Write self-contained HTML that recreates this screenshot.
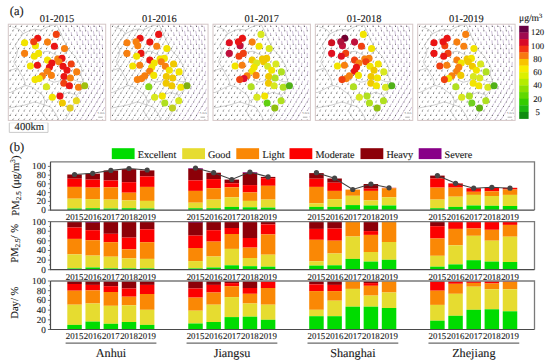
<!DOCTYPE html>
<html><head><meta charset="utf-8"><style>
html,body{margin:0;padding:0;background:#fff;}
body{width:550px;height:362px;overflow:hidden;}
svg{display:block;}
text{font-family:"Liberation Serif", serif; fill:#1a1a1a; stroke:#1a1a1a; stroke-width:0.12px; text-rendering:geometricPrecision;}
</style></head><body>
<svg width="550" height="362" viewBox="0 0 550 362">
<rect width="550" height="362" fill="#fff"/>
<text x="9.8" y="15.2" font-size="12.5">(a)</text><text x="57" y="22.2" font-size="10.4" text-anchor="middle">01-2015</text><clipPath id="cp0"><rect x="8.3" y="24.2" width="97.4" height="96.2"/></clipPath><g clip-path="url(#cp0)"><rect x="8.3" y="24.2" width="97.4" height="96.2" fill="#ffffff"/><path d="M11.2 24.49L10.1 26.4M16.8 24.49L15.7 26.4M22.4 24.49L21.3 26.4M28 24.49L26.9 26.4M33.6 24.49L32.5 26.4M39.2 24.49L38.1 26.4M44.8 24.49L43.7 26.4M50.4 24.49L49.3 26.4M56 24.49L54.9 26.4M14 28.94L12.9 30.85M19.6 28.94L18.5 30.85M25.2 28.94L24.1 30.85M30.8 28.94L29.7 30.85M36.4 28.94L35.3 30.85M42 28.94L40.9 30.85M47.6 28.94L46.5 30.85M53.2 28.94L52.1 30.85M58.8 28.94L57.7 30.85M11.2 33.39L10.1 35.3M16.8 33.39L15.7 35.3M22.4 33.39L21.3 35.3M28 33.39L26.9 35.3M33.6 33.39L32.5 35.3M39.2 33.39L38.1 35.3M44.8 33.39L43.7 35.3M50.4 33.39L49.3 35.3M56 33.39L54.9 35.3M61.6 33.39L60.5 35.3M14 37.84L12.9 39.75M19.6 37.84L18.5 39.75M25.2 37.84L24.1 39.75M30.8 37.84L29.7 39.75M36.4 37.84L35.3 39.75M42 37.84L40.9 39.75M47.6 37.84L46.5 39.75M53.2 37.84L52.1 39.75M58.8 37.84L57.7 39.75M64.4 37.84L63.3 39.75M11.2 42.29L10.1 44.2M16.8 42.29L15.7 44.2M22.4 42.29L21.3 44.2M28 42.29L26.9 44.2M33.6 42.29L32.5 44.2M39.2 42.29L38.1 44.2M44.8 42.29L43.7 44.2M50.4 42.29L49.3 44.2M56 42.29L54.9 44.2M61.6 42.29L60.5 44.2M67.2 42.29L66.1 44.2M14 46.74L12.9 48.65M19.6 46.74L18.5 48.65M25.2 46.74L24.1 48.65M30.8 46.74L29.7 48.65M36.4 46.74L35.3 48.65M42 46.74L40.9 48.65M47.6 46.74L46.5 48.65M53.2 46.74L52.1 48.65M58.8 46.74L57.7 48.65M64.4 46.74L63.3 48.65M70 46.74L68.9 48.65M11.2 51.19L10.1 53.1M16.8 51.19L15.7 53.1M22.4 51.19L21.3 53.1M28 51.19L26.9 53.1M33.6 51.19L32.5 53.1M39.2 51.19L38.1 53.1M44.8 51.19L43.7 53.1M50.4 51.19L49.3 53.1M56 51.19L54.9 53.1M61.6 51.19L60.5 53.1M67.2 51.19L66.1 53.1M72.8 51.19L71.7 53.1M14 55.64L12.9 57.55M19.6 55.64L18.5 57.55M25.2 55.64L24.1 57.55M30.8 55.64L29.7 57.55M36.4 55.64L35.3 57.55M42 55.64L40.9 57.55M47.6 55.64L46.5 57.55M53.2 55.64L52.1 57.55M58.8 55.64L57.7 57.55M64.4 55.64L63.3 57.55M70 55.64L68.9 57.55M75.6 55.64L74.5 57.55M11.2 60.09L10.1 62M16.8 60.09L15.7 62M22.4 60.09L21.3 62M28 60.09L26.9 62M33.6 60.09L32.5 62M39.2 60.09L38.1 62M44.8 60.09L43.7 62M50.4 60.09L49.3 62M56 60.09L54.9 62M61.6 60.09L60.5 62M67.2 60.09L66.1 62M72.8 60.09L71.7 62M78.4 60.09L77.3 62M14 64.54L12.9 66.45M19.6 64.54L18.5 66.45M25.2 64.54L24.1 66.45M30.8 64.54L29.7 66.45M36.4 64.54L35.3 66.45M42 64.54L40.9 66.45M47.6 64.54L46.5 66.45M53.2 64.54L52.1 66.45M58.8 64.54L57.7 66.45M64.4 64.54L63.3 66.45M70 64.54L68.9 66.45M75.6 64.54L74.5 66.45M81.2 64.54L80.1 66.45M11.2 68.99L10.1 70.9M16.8 68.99L15.7 70.9M22.4 68.99L21.3 70.9M28 68.99L26.9 70.9M33.6 68.99L32.5 70.9M39.2 68.99L38.1 70.9M44.8 68.99L43.7 70.9M50.4 68.99L49.3 70.9M56 68.99L54.9 70.9M61.6 68.99L60.5 70.9M67.2 68.99L66.1 70.9M72.8 68.99L71.7 70.9M78.4 68.99L77.3 70.9M84 68.99L82.9 70.9M14 73.44L12.9 75.35M19.6 73.44L18.5 75.35M25.2 73.44L24.1 75.35M30.8 73.44L29.7 75.35M36.4 73.44L35.3 75.35M42 73.44L40.9 75.35M47.6 73.44L46.5 75.35M53.2 73.44L52.1 75.35M58.8 73.44L57.7 75.35M64.4 73.44L63.3 75.35M70 73.44L68.9 75.35M75.6 73.44L74.5 75.35M81.2 73.44L80.1 75.35M11.2 77.89L10.1 79.8M16.8 77.89L15.7 79.8M22.4 77.89L21.3 79.8M28 77.89L26.9 79.8M33.6 77.89L32.5 79.8M39.2 77.89L38.1 79.8M44.8 77.89L43.7 79.8M50.4 77.89L49.3 79.8M56 77.89L54.9 79.8M61.6 77.89L60.5 79.8M67.2 77.89L66.1 79.8M72.8 77.89L71.7 79.8M78.4 77.89L77.3 79.8M84 77.89L82.9 79.8M14 82.34L12.9 84.25M19.6 82.34L18.5 84.25M25.2 82.34L24.1 84.25M30.8 82.34L29.7 84.25M36.4 82.34L35.3 84.25M42 82.34L40.9 84.25M47.6 82.34L46.5 84.25M53.2 82.34L52.1 84.25M58.8 82.34L57.7 84.25M64.4 82.34L63.3 84.25M70 82.34L68.9 84.25M75.6 82.34L74.5 84.25M81.2 82.34L80.1 84.25M86.8 82.34L85.7 84.25M11.2 86.79L10.1 88.7M16.8 86.79L15.7 88.7M22.4 86.79L21.3 88.7M28 86.79L26.9 88.7M33.6 86.79L32.5 88.7M39.2 86.79L38.1 88.7M44.8 86.79L43.7 88.7M50.4 86.79L49.3 88.7M56 86.79L54.9 88.7M61.6 86.79L60.5 88.7M67.2 86.79L66.1 88.7M72.8 86.79L71.7 88.7M78.4 86.79L77.3 88.7M84 86.79L82.9 88.7M14 91.24L12.9 93.15M19.6 91.24L18.5 93.15M25.2 91.24L24.1 93.15M30.8 91.24L29.7 93.15M36.4 91.24L35.3 93.15M42 91.24L40.9 93.15M47.6 91.24L46.5 93.15M53.2 91.24L52.1 93.15M58.8 91.24L57.7 93.15M64.4 91.24L63.3 93.15M70 91.24L68.9 93.15M75.6 91.24L74.5 93.15M81.2 91.24L80.1 93.15M11.2 95.69L10.1 97.6M16.8 95.69L15.7 97.6M22.4 95.69L21.3 97.6M28 95.69L26.9 97.6M33.6 95.69L32.5 97.6M39.2 95.69L38.1 97.6M44.8 95.69L43.7 97.6M50.4 95.69L49.3 97.6M56 95.69L54.9 97.6M61.6 95.69L60.5 97.6M67.2 95.69L66.1 97.6M72.8 95.69L71.7 97.6M78.4 95.69L77.3 97.6M14 100.14L12.9 102.05M19.6 100.14L18.5 102.05M25.2 100.14L24.1 102.05M30.8 100.14L29.7 102.05M36.4 100.14L35.3 102.05M42 100.14L40.9 102.05M47.6 100.14L46.5 102.05M53.2 100.14L52.1 102.05M58.8 100.14L57.7 102.05M64.4 100.14L63.3 102.05M70 100.14L68.9 102.05M75.6 100.14L74.5 102.05M11.2 104.59L10.1 106.5M16.8 104.59L15.7 106.5M22.4 104.59L21.3 106.5M28 104.59L26.9 106.5M33.6 104.59L32.5 106.5M39.2 104.59L38.1 106.5M44.8 104.59L43.7 106.5M50.4 104.59L49.3 106.5M56 104.59L54.9 106.5M61.6 104.59L60.5 106.5M67.2 104.59L66.1 106.5M72.8 104.59L71.7 106.5M14 109.04L12.9 110.95M19.6 109.04L18.5 110.95M25.2 109.04L24.1 110.95M30.8 109.04L29.7 110.95M36.4 109.04L35.3 110.95M42 109.04L40.9 110.95M47.6 109.04L46.5 110.95M53.2 109.04L52.1 110.95M58.8 109.04L57.7 110.95M64.4 109.04L63.3 110.95M70 109.04L68.9 110.95M11.2 113.49L10.1 115.4M16.8 113.49L15.7 115.4M22.4 113.49L21.3 115.4M28 113.49L26.9 115.4M33.6 113.49L32.5 115.4M39.2 113.49L38.1 115.4M44.8 113.49L43.7 115.4M50.4 113.49L49.3 115.4M56 113.49L54.9 115.4M61.6 113.49L60.5 115.4M67.2 113.49L66.1 115.4M14 117.94L12.9 119.85M19.6 117.94L18.5 119.85M25.2 117.94L24.1 119.85M30.8 117.94L29.7 119.85M36.4 117.94L35.3 119.85M42 117.94L40.9 119.85M47.6 117.94L46.5 119.85M53.2 117.94L52.1 119.85M58.8 117.94L57.7 119.85M64.4 117.94L63.3 119.85" stroke="#9c9c9c" stroke-width="0.5" fill="none"/><path d="M60.02 24.09L60.5 26.4M65.49 23.44L66.1 26.4M70.96 22.8L71.7 26.4M76.42 22.15L77.3 26.4M81.97 21.89L82.9 26.4M87.57 21.89L88.5 26.4M93.17 21.89L94.1 26.4M98.77 21.89L99.7 26.4M62.86 28.47L63.3 30.85M68.34 27.82L68.9 30.85M73.82 27.17L74.5 30.85M79.3 26.52L80.1 30.85M84.86 26.33L85.7 30.85M90.46 26.33L91.3 30.85M96.06 26.33L96.9 30.85M101.66 26.33L102.5 30.85M65.7 32.81L66.1 35.3M71.2 32.15L71.7 35.3M76.69 31.5L77.3 35.3M82.19 30.85L82.9 35.3M87.77 30.76L88.5 35.3M93.37 30.76L94.1 35.3M98.97 30.76L99.7 35.3M68.56 37.15L68.9 39.75M74.07 36.49L74.5 39.75M79.58 35.84L80.1 39.75M85.1 35.19L85.7 39.75M90.7 35.19L91.3 39.75M96.3 35.19L96.9 39.75M101.9 35.19L102.5 39.75M71.43 41.52L71.7 44.2M76.96 40.86L77.3 44.2M82.5 40.2L82.9 44.2M88.04 39.62L88.5 44.2M93.64 39.62L94.1 44.2M99.24 39.62L99.7 44.2M74.31 45.89L74.5 48.65M79.87 45.23L80.1 48.65M85.42 44.57L85.7 48.65M90.99 44.06L91.3 48.65M96.59 44.06L96.9 48.65M102.19 44.06L102.5 48.65M77.21 50.48L77.3 53.1M82.79 49.81L82.9 53.1M88.37 49.15L88.5 53.1M93.94 48.5L94.1 53.1M99.54 48.5L99.7 53.1M80.1 55.06L80.1 57.55M85.71 54.4L85.7 57.55M91.31 53.74L91.3 57.55M96.91 53.08L96.9 57.55M102.51 52.95L102.5 57.55M83 59.5L82.9 62M88.62 58.84L88.5 62M94.25 58.18L94.1 62M99.88 57.52L99.7 62M85.9 63.9L85.7 66.45M91.55 63.24L91.3 66.45M97.2 62.58L96.9 66.45M102.85 61.92L102.5 66.45M88.84 68.07L88.5 70.9M94.51 67.41L94.1 70.9M100.19 66.75L99.7 70.9M86.1 72.84L85.7 75.35M91.81 72.19L91.3 75.35M97.51 71.54L96.9 75.35M103.22 70.88L102.5 75.35M89.04 77.16L88.5 79.8M94.77 76.51L94.1 79.8M100.5 75.86L99.7 79.8M91.99 81.49L91.3 84.25M97.75 80.85L96.9 84.25M103.51 80.2L102.5 84.25M89.28 86.09L88.5 88.7M95.06 85.45L94.1 88.7M100.85 84.82L99.7 88.7M86.64 90.44L85.7 93.15M92.46 89.81L91.3 93.15M98.27 89.19L96.9 93.15M104.01 88.8L102.5 93.15M83.94 95L82.9 97.6M89.79 94.38L88.5 97.6M95.63 93.77L94.1 97.6M101.41 93.33L99.7 97.6M81.17 99.69L80.1 102.05M87.05 99.09L85.7 102.05M92.92 98.48L91.3 102.05M98.8 97.88L96.9 102.05M104.4 97.86L102.5 102.05M78.45 104.26L77.3 106.5M84.35 103.67L82.9 106.5M90.26 103.08L88.5 106.5M96.16 102.49L94.1 106.5M101.8 102.41L99.7 106.5M75.73 108.82L74.5 110.95M81.66 108.24L80.1 110.95M87.59 107.67L85.7 110.95M93.52 107.1L91.3 110.95M99.2 106.96L96.9 110.95M104.8 106.96L102.5 110.95M73.03 113.34L71.7 115.4M78.98 112.79L77.3 115.4M84.94 112.23L82.9 115.4M90.9 111.67L88.5 115.4M96.59 111.53L94.1 115.4M102.19 111.53L99.7 115.4M70.31 117.88L68.9 119.85M76.3 117.34L74.5 119.85M82.28 116.8L80.1 119.85M88.27 116.27L85.7 119.85M93.98 116.11L91.3 119.85M99.58 116.11L96.9 119.85M105.18 116.11L102.5 119.85" stroke="#a890bc" stroke-width="0.55" fill="none"/><path d="M10.1 26.4h0M15.7 26.4h0M21.3 26.4h0M26.9 26.4h0M32.5 26.4h0M38.1 26.4h0M43.7 26.4h0M49.3 26.4h0M54.9 26.4h0M60.5 26.4h0M66.1 26.4h0M71.7 26.4h0M77.3 26.4h0M82.9 26.4h0M88.5 26.4h0M94.1 26.4h0M99.7 26.4h0M12.9 30.85h0M18.5 30.85h0M24.1 30.85h0M29.7 30.85h0M35.3 30.85h0M40.9 30.85h0M46.5 30.85h0M52.1 30.85h0M57.7 30.85h0M63.3 30.85h0M68.9 30.85h0M74.5 30.85h0M80.1 30.85h0M85.7 30.85h0M91.3 30.85h0M96.9 30.85h0M102.5 30.85h0M10.1 35.3h0M15.7 35.3h0M21.3 35.3h0M26.9 35.3h0M32.5 35.3h0M38.1 35.3h0M43.7 35.3h0M49.3 35.3h0M54.9 35.3h0M60.5 35.3h0M66.1 35.3h0M71.7 35.3h0M77.3 35.3h0M82.9 35.3h0M88.5 35.3h0M94.1 35.3h0M99.7 35.3h0M12.9 39.75h0M18.5 39.75h0M24.1 39.75h0M29.7 39.75h0M35.3 39.75h0M40.9 39.75h0M46.5 39.75h0M52.1 39.75h0M57.7 39.75h0M63.3 39.75h0M68.9 39.75h0M74.5 39.75h0M80.1 39.75h0M85.7 39.75h0M91.3 39.75h0M96.9 39.75h0M102.5 39.75h0M10.1 44.2h0M15.7 44.2h0M21.3 44.2h0M26.9 44.2h0M32.5 44.2h0M38.1 44.2h0M43.7 44.2h0M49.3 44.2h0M54.9 44.2h0M60.5 44.2h0M66.1 44.2h0M71.7 44.2h0M77.3 44.2h0M82.9 44.2h0M88.5 44.2h0M94.1 44.2h0M99.7 44.2h0M12.9 48.65h0M18.5 48.65h0M24.1 48.65h0M29.7 48.65h0M35.3 48.65h0M40.9 48.65h0M46.5 48.65h0M52.1 48.65h0M57.7 48.65h0M63.3 48.65h0M68.9 48.65h0M74.5 48.65h0M80.1 48.65h0M85.7 48.65h0M91.3 48.65h0M96.9 48.65h0M102.5 48.65h0M10.1 53.1h0M15.7 53.1h0M21.3 53.1h0M26.9 53.1h0M32.5 53.1h0M38.1 53.1h0M43.7 53.1h0M49.3 53.1h0M54.9 53.1h0M60.5 53.1h0M66.1 53.1h0M71.7 53.1h0M77.3 53.1h0M82.9 53.1h0M88.5 53.1h0M94.1 53.1h0M99.7 53.1h0M12.9 57.55h0M18.5 57.55h0M24.1 57.55h0M29.7 57.55h0M35.3 57.55h0M40.9 57.55h0M46.5 57.55h0M52.1 57.55h0M57.7 57.55h0M63.3 57.55h0M68.9 57.55h0M74.5 57.55h0M80.1 57.55h0M85.7 57.55h0M91.3 57.55h0M96.9 57.55h0M102.5 57.55h0M10.1 62h0M15.7 62h0M21.3 62h0M26.9 62h0M32.5 62h0M38.1 62h0M43.7 62h0M49.3 62h0M54.9 62h0M60.5 62h0M66.1 62h0M71.7 62h0M77.3 62h0M82.9 62h0M88.5 62h0M94.1 62h0M99.7 62h0M12.9 66.45h0M18.5 66.45h0M24.1 66.45h0M29.7 66.45h0M35.3 66.45h0M40.9 66.45h0M46.5 66.45h0M52.1 66.45h0M57.7 66.45h0M63.3 66.45h0M68.9 66.45h0M74.5 66.45h0M80.1 66.45h0M85.7 66.45h0M91.3 66.45h0M96.9 66.45h0M102.5 66.45h0M10.1 70.9h0M15.7 70.9h0M21.3 70.9h0M26.9 70.9h0M32.5 70.9h0M38.1 70.9h0M43.7 70.9h0M49.3 70.9h0M54.9 70.9h0M60.5 70.9h0M66.1 70.9h0M71.7 70.9h0M77.3 70.9h0M82.9 70.9h0M88.5 70.9h0M94.1 70.9h0M99.7 70.9h0M12.9 75.35h0M18.5 75.35h0M24.1 75.35h0M29.7 75.35h0M35.3 75.35h0M40.9 75.35h0M46.5 75.35h0M52.1 75.35h0M57.7 75.35h0M63.3 75.35h0M68.9 75.35h0M74.5 75.35h0M80.1 75.35h0M85.7 75.35h0M91.3 75.35h0M96.9 75.35h0M102.5 75.35h0M10.1 79.8h0M15.7 79.8h0M21.3 79.8h0M26.9 79.8h0M32.5 79.8h0M38.1 79.8h0M43.7 79.8h0M49.3 79.8h0M54.9 79.8h0M60.5 79.8h0M66.1 79.8h0M71.7 79.8h0M77.3 79.8h0M82.9 79.8h0M88.5 79.8h0M94.1 79.8h0M99.7 79.8h0M12.9 84.25h0M18.5 84.25h0M24.1 84.25h0M29.7 84.25h0M35.3 84.25h0M40.9 84.25h0M46.5 84.25h0M52.1 84.25h0M57.7 84.25h0M63.3 84.25h0M68.9 84.25h0M74.5 84.25h0M80.1 84.25h0M85.7 84.25h0M91.3 84.25h0M96.9 84.25h0M102.5 84.25h0M10.1 88.7h0M15.7 88.7h0M21.3 88.7h0M26.9 88.7h0M32.5 88.7h0M38.1 88.7h0M43.7 88.7h0M49.3 88.7h0M54.9 88.7h0M60.5 88.7h0M66.1 88.7h0M71.7 88.7h0M77.3 88.7h0M82.9 88.7h0M88.5 88.7h0M94.1 88.7h0M99.7 88.7h0M12.9 93.15h0M18.5 93.15h0M24.1 93.15h0M29.7 93.15h0M35.3 93.15h0M40.9 93.15h0M46.5 93.15h0M52.1 93.15h0M57.7 93.15h0M63.3 93.15h0M68.9 93.15h0M74.5 93.15h0M80.1 93.15h0M85.7 93.15h0M91.3 93.15h0M96.9 93.15h0M102.5 93.15h0M10.1 97.6h0M15.7 97.6h0M21.3 97.6h0M26.9 97.6h0M32.5 97.6h0M38.1 97.6h0M43.7 97.6h0M49.3 97.6h0M54.9 97.6h0M60.5 97.6h0M66.1 97.6h0M71.7 97.6h0M77.3 97.6h0M82.9 97.6h0M88.5 97.6h0M94.1 97.6h0M99.7 97.6h0M12.9 102.05h0M18.5 102.05h0M24.1 102.05h0M29.7 102.05h0M35.3 102.05h0M40.9 102.05h0M46.5 102.05h0M52.1 102.05h0M57.7 102.05h0M63.3 102.05h0M68.9 102.05h0M74.5 102.05h0M80.1 102.05h0M85.7 102.05h0M91.3 102.05h0M96.9 102.05h0M102.5 102.05h0M10.1 106.5h0M15.7 106.5h0M21.3 106.5h0M26.9 106.5h0M32.5 106.5h0M38.1 106.5h0M43.7 106.5h0M49.3 106.5h0M54.9 106.5h0M60.5 106.5h0M66.1 106.5h0M71.7 106.5h0M77.3 106.5h0M82.9 106.5h0M88.5 106.5h0M94.1 106.5h0M99.7 106.5h0M12.9 110.95h0M18.5 110.95h0M24.1 110.95h0M29.7 110.95h0M35.3 110.95h0M40.9 110.95h0M46.5 110.95h0M52.1 110.95h0M57.7 110.95h0M63.3 110.95h0M68.9 110.95h0M74.5 110.95h0M80.1 110.95h0M85.7 110.95h0M91.3 110.95h0M96.9 110.95h0M102.5 110.95h0M10.1 115.4h0M15.7 115.4h0M21.3 115.4h0M26.9 115.4h0M32.5 115.4h0M38.1 115.4h0M43.7 115.4h0M49.3 115.4h0M54.9 115.4h0M60.5 115.4h0M66.1 115.4h0M71.7 115.4h0M77.3 115.4h0M82.9 115.4h0M88.5 115.4h0M94.1 115.4h0M99.7 115.4h0M12.9 119.85h0M18.5 119.85h0M24.1 119.85h0M29.7 119.85h0M35.3 119.85h0M40.9 119.85h0M46.5 119.85h0M52.1 119.85h0M57.7 119.85h0M63.3 119.85h0M68.9 119.85h0M74.5 119.85h0M80.1 119.85h0M85.7 119.85h0M91.3 119.85h0M96.9 119.85h0M102.5 119.85h0" stroke="#5a5a5a" stroke-width="1.1" stroke-linecap="round" fill="none"/><polyline points="56.3,24.2 59.2,29.6 63.2,38.9 68.5,49.6 75.2,56.3 79.3,63 81.9,68.4 80.6,73.7 83.3,81.8 84.8,86.2 80.6,90.5 76.6,95.2 75.2,101.8 71.2,109.9 67.2,116.6 64.8,120.7" fill="none" stroke="#a8a8a8" stroke-width="0.55"/><polyline points="12.1,26.8 16.3,28.1 20.3,30.2 23.2,33.7 20.3,37.8 17.7,41.2 15,45.2 17.7,51 16.3,56.3 13.7,61.7 16.3,66.2 18.8,70 20.9,74.2 23.7,78.5 25.2,84.1 25.9,85.5" fill="none" stroke="#a8a8a8" stroke-width="0.55"/><polyline points="8.3,92.5 10.4,92.5 16.1,89.7 21.7,86.9 25.9,85.5 31.5,86.9" fill="none" stroke="#a8a8a8" stroke-width="0.55"/><polyline points="31.5,86.9 37.2,91.1 42.8,95.4 44.9,101 43.5,106.6 41.3,110.8 44.3,116.2 48.3,120.7" fill="none" stroke="#a8a8a8" stroke-width="0.55"/><polyline points="8.3,71.1 12.3,69.7 16.3,68.4 18.8,70" fill="none" stroke="#a8a8a8" stroke-width="0.55"/><polyline points="8.3,108.2 16.3,106.7 24.3,105.2 32.3,102.7 35.1,101.8 43.1,104.5 51.1,107.2 56.5,115.2 59.2,121.1" fill="none" stroke="#a8a8a8" stroke-width="0.55"/><polyline points="23.2,33.7 28.3,31.2 34.3,29.2 41.3,30.2 46.3,27.2 52.3,25.2 56.3,24.2" fill="none" stroke="#a8a8a8" stroke-width="0.55"/><polyline points="38.3,48.2 42.3,52.2 48.3,51.2 54.3,54.2 60.3,57.2 64.3,54.2 68.5,49.6" fill="none" stroke="#a8a8a8" stroke-width="0.55"/><polyline points="48.3,80.2 54.3,82.2 60.3,80.7 66.3,81.7 72.3,79.2 78.3,81.7 83.3,81.8" fill="none" stroke="#a8a8a8" stroke-width="0.55"/><polyline points="44.9,101 50.3,98.2 56.3,96.7 62.3,94.7 68.3,92.2 76.6,95.2" fill="none" stroke="#a8a8a8" stroke-width="0.55"/><circle cx="56.3" cy="34.4" r="3.55" fill="#f04010"/><circle cx="35.4" cy="45.8" r="3.55" fill="#f2e400"/><circle cx="37.7" cy="38.2" r="3.55" fill="#ea1414"/><circle cx="24.6" cy="42.7" r="3.55" fill="#f2e400"/><circle cx="33.7" cy="41.8" r="3.55" fill="#f04010"/><circle cx="47.5" cy="42.1" r="3.55" fill="#f78010"/><circle cx="54.4" cy="46.2" r="3.55" fill="#ea1414"/><circle cx="64.5" cy="48.6" r="3.55" fill="#f78010"/><circle cx="24.6" cy="53.4" r="3.55" fill="#f78010"/><circle cx="38.6" cy="53.4" r="3.55" fill="#f2e400"/><circle cx="34.3" cy="56.3" r="3.55" fill="#f2e400"/><circle cx="57.7" cy="59" r="3.55" fill="#f78010"/><circle cx="62" cy="58.4" r="3.55" fill="#ea1414"/><circle cx="58.9" cy="61.7" r="3.55" fill="#f78010"/><circle cx="47.5" cy="60.1" r="3.55" fill="#f2e400"/><circle cx="51.9" cy="63.1" r="3.55" fill="#ea1414"/><circle cx="63" cy="66.2" r="3.55" fill="#ea1414"/><circle cx="71.2" cy="64" r="3.55" fill="#f04010"/><circle cx="49.4" cy="67.2" r="3.55" fill="#ea1414"/><circle cx="67" cy="70.2" r="3.55" fill="#ea1414"/><circle cx="47.4" cy="71.2" r="3.55" fill="#f78010"/><circle cx="76.7" cy="71.9" r="3.55" fill="#f78010"/><circle cx="30.4" cy="66" r="3.55" fill="#f2e400"/><circle cx="37.4" cy="65.3" r="3.55" fill="#ea1414"/><circle cx="42.4" cy="75.7" r="3.55" fill="#f78010"/><circle cx="51.4" cy="75.4" r="3.55" fill="#f78010"/><circle cx="64" cy="76.5" r="3.55" fill="#ea1414"/><circle cx="70.4" cy="78" r="3.55" fill="#f78010"/><circle cx="39.3" cy="78.6" r="3.55" fill="#f2e400"/><circle cx="35" cy="79.6" r="3.55" fill="#f2e400"/><circle cx="63.8" cy="83.3" r="3.55" fill="#f04010"/><circle cx="69.4" cy="85.7" r="3.55" fill="#ea1414"/><circle cx="78.5" cy="87.3" r="3.55" fill="#f78010"/><circle cx="84.7" cy="85.7" r="3.55" fill="#a0c010"/><circle cx="46.4" cy="86.8" r="3.55" fill="#d8e820"/><circle cx="52.3" cy="97.2" r="3.55" fill="#f2e400"/><circle cx="60" cy="96.1" r="3.55" fill="#ea1414"/><circle cx="62.4" cy="103" r="3.55" fill="#f0c800"/><circle cx="76.4" cy="100.7" r="3.55" fill="#e8d820"/><circle cx="70.1" cy="108" r="3.55" fill="#e0cc20"/><rect x="96.7" y="111" width="8" height="8.5" fill="#fff"/><text x="97.5" y="114.4" font-size="3.2" style="stroke:none;fill:#666">5 m/s</text><path d="M98.2 117.2h4.5" stroke="#777" stroke-width="0.6"/></g><rect x="8.3" y="24.2" width="97.4" height="96.2" fill="none" stroke="#d4c6c6" stroke-width="1"/><text x="159.35" y="22.2" font-size="10.4" text-anchor="middle">01-2016</text><clipPath id="cp1"><rect x="110.65" y="24.2" width="97.4" height="96.2"/></clipPath><g clip-path="url(#cp1)"><rect x="110.65" y="24.2" width="97.4" height="96.2" fill="#ffffff"/><path d="M114.25 23.52L112.45 26.4M119.85 23.52L118.05 26.4M125.45 23.52L123.65 26.4M131.05 23.52L129.25 26.4M136.65 23.52L134.85 26.4M142.25 23.52L140.45 26.4M147.85 23.52L146.05 26.4M153.45 23.52L151.65 26.4M159.05 23.52L157.25 26.4M117.05 27.97L115.25 30.85M122.65 27.97L120.85 30.85M128.25 27.97L126.45 30.85M133.85 27.97L132.05 30.85M139.45 27.97L137.65 30.85M145.05 27.97L143.25 30.85M150.65 27.97L148.85 30.85M156.25 27.97L154.45 30.85M161.85 27.97L160.05 30.85M114.25 32.42L112.45 35.3M119.85 32.42L118.05 35.3M125.45 32.42L123.65 35.3M131.05 32.42L129.25 35.3M136.65 32.42L134.85 35.3M142.25 32.42L140.45 35.3M147.85 32.42L146.05 35.3M153.45 32.42L151.65 35.3M159.05 32.42L157.25 35.3M164.65 32.42L162.85 35.3M117.05 36.87L115.25 39.75M122.65 36.87L120.85 39.75M128.25 36.87L126.45 39.75M133.85 36.87L132.05 39.75M139.45 36.87L137.65 39.75M145.05 36.87L143.25 39.75M150.65 36.87L148.85 39.75M156.25 36.87L154.45 39.75M161.85 36.87L160.05 39.75M167.45 36.87L165.65 39.75M114.25 41.32L112.45 44.2M119.85 41.32L118.05 44.2M125.45 41.32L123.65 44.2M131.05 41.32L129.25 44.2M136.65 41.32L134.85 44.2M142.25 41.32L140.45 44.2M147.85 41.32L146.05 44.2M153.45 41.32L151.65 44.2M159.05 41.32L157.25 44.2M164.65 41.32L162.85 44.2M170.25 41.32L168.45 44.2M117.05 45.77L115.25 48.65M122.65 45.77L120.85 48.65M128.25 45.77L126.45 48.65M133.85 45.77L132.05 48.65M139.45 45.77L137.65 48.65M145.05 45.77L143.25 48.65M150.65 45.77L148.85 48.65M156.25 45.77L154.45 48.65M161.85 45.77L160.05 48.65M167.45 45.77L165.65 48.65M173.05 45.77L171.25 48.65M114.25 50.22L112.45 53.1M119.85 50.22L118.05 53.1M125.45 50.22L123.65 53.1M131.05 50.22L129.25 53.1M136.65 50.22L134.85 53.1M142.25 50.22L140.45 53.1M147.85 50.22L146.05 53.1M153.45 50.22L151.65 53.1M159.05 50.22L157.25 53.1M164.65 50.22L162.85 53.1M170.25 50.22L168.45 53.1M175.85 50.22L174.05 53.1M117.05 54.67L115.25 57.55M122.65 54.67L120.85 57.55M128.25 54.67L126.45 57.55M133.85 54.67L132.05 57.55M139.45 54.67L137.65 57.55M145.05 54.67L143.25 57.55M150.65 54.67L148.85 57.55M156.25 54.67L154.45 57.55M161.85 54.67L160.05 57.55M167.45 54.67L165.65 57.55M173.05 54.67L171.25 57.55M178.65 54.67L176.85 57.55M114.25 59.12L112.45 62M119.85 59.12L118.05 62M125.45 59.12L123.65 62M131.05 59.12L129.25 62M136.65 59.12L134.85 62M142.25 59.12L140.45 62M147.85 59.12L146.05 62M153.45 59.12L151.65 62M159.05 59.12L157.25 62M164.65 59.12L162.85 62M170.25 59.12L168.45 62M175.85 59.12L174.05 62M181.45 59.12L179.65 62M117.05 63.57L115.25 66.45M122.65 63.57L120.85 66.45M128.25 63.57L126.45 66.45M133.85 63.57L132.05 66.45M139.45 63.57L137.65 66.45M145.05 63.57L143.25 66.45M150.65 63.57L148.85 66.45M156.25 63.57L154.45 66.45M161.85 63.57L160.05 66.45M167.45 63.57L165.65 66.45M173.05 63.57L171.25 66.45M178.65 63.57L176.85 66.45M184.25 63.57L182.45 66.45M114.25 68.02L112.45 70.9M119.85 68.02L118.05 70.9M125.45 68.02L123.65 70.9M131.05 68.02L129.25 70.9M136.65 68.02L134.85 70.9M142.25 68.02L140.45 70.9M147.85 68.02L146.05 70.9M153.45 68.02L151.65 70.9M159.05 68.02L157.25 70.9M164.65 68.02L162.85 70.9M170.25 68.02L168.45 70.9M175.85 68.02L174.05 70.9M181.45 68.02L179.65 70.9M187.05 68.02L185.25 70.9M117.05 72.47L115.25 75.35M122.65 72.47L120.85 75.35M128.25 72.47L126.45 75.35M133.85 72.47L132.05 75.35M139.45 72.47L137.65 75.35M145.05 72.47L143.25 75.35M150.65 72.47L148.85 75.35M156.25 72.47L154.45 75.35M161.85 72.47L160.05 75.35M167.45 72.47L165.65 75.35M173.05 72.47L171.25 75.35M178.65 72.47L176.85 75.35M184.25 72.47L182.45 75.35M114.25 76.92L112.45 79.8M119.85 76.92L118.05 79.8M125.45 76.92L123.65 79.8M131.05 76.92L129.25 79.8M136.65 76.92L134.85 79.8M142.25 76.92L140.45 79.8M147.85 76.92L146.05 79.8M153.45 76.92L151.65 79.8M159.05 76.92L157.25 79.8M164.65 76.92L162.85 79.8M170.25 76.92L168.45 79.8M175.85 76.92L174.05 79.8M181.45 76.92L179.65 79.8M187.05 76.92L185.25 79.8M117.05 81.37L115.25 84.25M122.65 81.37L120.85 84.25M128.25 81.37L126.45 84.25M133.85 81.37L132.05 84.25M139.45 81.37L137.65 84.25M145.05 81.37L143.25 84.25M150.65 81.37L148.85 84.25M156.25 81.37L154.45 84.25M161.85 81.37L160.05 84.25M167.45 81.37L165.65 84.25M173.05 81.37L171.25 84.25M178.65 81.37L176.85 84.25M184.25 81.37L182.45 84.25M189.85 81.37L188.05 84.25M114.25 85.82L112.45 88.7M119.85 85.82L118.05 88.7M125.45 85.82L123.65 88.7M131.05 85.82L129.25 88.7M136.65 85.82L134.85 88.7M142.25 85.82L140.45 88.7M147.85 85.82L146.05 88.7M153.45 85.82L151.65 88.7M159.05 85.82L157.25 88.7M164.65 85.82L162.85 88.7M170.25 85.82L168.45 88.7M175.85 85.82L174.05 88.7M181.45 85.82L179.65 88.7M187.05 85.82L185.25 88.7M117.05 90.27L115.25 93.15M122.65 90.27L120.85 93.15M128.25 90.27L126.45 93.15M133.85 90.27L132.05 93.15M139.45 90.27L137.65 93.15M145.05 90.27L143.25 93.15M150.65 90.27L148.85 93.15M156.25 90.27L154.45 93.15M161.85 90.27L160.05 93.15M167.45 90.27L165.65 93.15M173.05 90.27L171.25 93.15M178.65 90.27L176.85 93.15M184.25 90.27L182.45 93.15M114.25 94.72L112.45 97.6M119.85 94.72L118.05 97.6M125.45 94.72L123.65 97.6M131.05 94.72L129.25 97.6M136.65 94.72L134.85 97.6M142.25 94.72L140.45 97.6M147.85 94.72L146.05 97.6M153.45 94.72L151.65 97.6M159.05 94.72L157.25 97.6M164.65 94.72L162.85 97.6M170.25 94.72L168.45 97.6M175.85 94.72L174.05 97.6M181.45 94.72L179.65 97.6M117.05 99.17L115.25 102.05M122.65 99.17L120.85 102.05M128.25 99.17L126.45 102.05M133.85 99.17L132.05 102.05M139.45 99.17L137.65 102.05M145.05 99.17L143.25 102.05M150.65 99.17L148.85 102.05M156.25 99.17L154.45 102.05M161.85 99.17L160.05 102.05M167.45 99.17L165.65 102.05M173.05 99.17L171.25 102.05M178.65 99.17L176.85 102.05M114.25 103.62L112.45 106.5M119.85 103.62L118.05 106.5M125.45 103.62L123.65 106.5M131.05 103.62L129.25 106.5M136.65 103.62L134.85 106.5M142.25 103.62L140.45 106.5M147.85 103.62L146.05 106.5M153.45 103.62L151.65 106.5M159.05 103.62L157.25 106.5M164.65 103.62L162.85 106.5M170.25 103.62L168.45 106.5M175.85 103.62L174.05 106.5M117.05 108.07L115.25 110.95M122.65 108.07L120.85 110.95M128.25 108.07L126.45 110.95M133.85 108.07L132.05 110.95M139.45 108.07L137.65 110.95M145.05 108.07L143.25 110.95M150.65 108.07L148.85 110.95M156.25 108.07L154.45 110.95M161.85 108.07L160.05 110.95M167.45 108.07L165.65 110.95M173.05 108.07L171.25 110.95M114.25 112.52L112.45 115.4M119.85 112.52L118.05 115.4M125.45 112.52L123.65 115.4M131.05 112.52L129.25 115.4M136.65 112.52L134.85 115.4M142.25 112.52L140.45 115.4M147.85 112.52L146.05 115.4M153.45 112.52L151.65 115.4M159.05 112.52L157.25 115.4M164.65 112.52L162.85 115.4M170.25 112.52L168.45 115.4M117.05 116.97L115.25 119.85M122.65 116.97L120.85 119.85M128.25 116.97L126.45 119.85M133.85 116.97L132.05 119.85M139.45 116.97L137.65 119.85M145.05 116.97L143.25 119.85M150.65 116.97L148.85 119.85M156.25 116.97L154.45 119.85M161.85 116.97L160.05 119.85M167.45 116.97L165.65 119.85" stroke="#9c9c9c" stroke-width="0.5" fill="none"/><path d="M162.37 24.09L162.85 26.4M167.84 23.44L168.45 26.4M173.31 22.8L174.05 26.4M178.77 22.15L179.65 26.4M184.32 21.89L185.25 26.4M189.92 21.89L190.85 26.4M195.52 21.89L196.45 26.4M201.12 21.89L202.05 26.4M165.21 28.47L165.65 30.85M170.69 27.82L171.25 30.85M176.17 27.17L176.85 30.85M181.65 26.52L182.45 30.85M187.21 26.33L188.05 30.85M192.81 26.33L193.65 30.85M198.41 26.33L199.25 30.85M204.01 26.33L204.85 30.85M168.05 32.81L168.45 35.3M173.55 32.15L174.05 35.3M179.04 31.5L179.65 35.3M184.54 30.85L185.25 35.3M190.12 30.76L190.85 35.3M195.72 30.76L196.45 35.3M201.32 30.76L202.05 35.3M170.91 37.15L171.25 39.75M176.42 36.49L176.85 39.75M181.93 35.84L182.45 39.75M187.45 35.19L188.05 39.75M193.05 35.19L193.65 39.75M198.65 35.19L199.25 39.75M204.25 35.19L204.85 39.75M173.78 41.52L174.05 44.2M179.31 40.86L179.65 44.2M184.85 40.2L185.25 44.2M190.39 39.62L190.85 44.2M195.99 39.62L196.45 44.2M201.59 39.62L202.05 44.2M176.66 45.89L176.85 48.65M182.22 45.23L182.45 48.65M187.77 44.57L188.05 48.65M193.34 44.06L193.65 48.65M198.94 44.06L199.25 48.65M204.54 44.06L204.85 48.65M179.56 50.48L179.65 53.1M185.14 49.81L185.25 53.1M190.72 49.15L190.85 53.1M196.29 48.5L196.45 53.1M201.89 48.5L202.05 53.1M182.45 55.06L182.45 57.55M188.06 54.4L188.05 57.55M193.66 53.74L193.65 57.55M199.26 53.08L199.25 57.55M204.86 52.95L204.85 57.55M185.35 59.5L185.25 62M190.97 58.84L190.85 62M196.6 58.18L196.45 62M202.23 57.52L202.05 62M188.25 63.9L188.05 66.45M193.9 63.24L193.65 66.45M199.55 62.58L199.25 66.45M205.2 61.92L204.85 66.45M191.19 68.07L190.85 70.9M196.86 67.41L196.45 70.9M202.54 66.75L202.05 70.9M188.45 72.84L188.05 75.35M194.16 72.19L193.65 75.35M199.86 71.54L199.25 75.35M205.57 70.88L204.85 75.35M191.39 77.16L190.85 79.8M197.12 76.51L196.45 79.8M202.85 75.86L202.05 79.8M194.34 81.49L193.65 84.25M200.1 80.85L199.25 84.25M205.86 80.2L204.85 84.25M191.63 86.09L190.85 88.7M197.41 85.45L196.45 88.7M203.2 84.82L202.05 88.7M188.99 90.44L188.05 93.15M194.81 89.81L193.65 93.15M200.62 89.19L199.25 93.15M206.36 88.8L204.85 93.15M186.29 95L185.25 97.6M192.14 94.38L190.85 97.6M197.98 93.77L196.45 97.6M203.76 93.33L202.05 97.6M183.52 99.69L182.45 102.05M189.4 99.09L188.05 102.05M195.27 98.48L193.65 102.05M201.15 97.88L199.25 102.05M206.75 97.86L204.85 102.05M180.8 104.26L179.65 106.5M186.7 103.67L185.25 106.5M192.61 103.08L190.85 106.5M198.51 102.49L196.45 106.5M204.15 102.41L202.05 106.5M178.08 108.82L176.85 110.95M184.01 108.24L182.45 110.95M189.94 107.67L188.05 110.95M195.87 107.1L193.65 110.95M201.55 106.96L199.25 110.95M207.15 106.96L204.85 110.95M175.38 113.34L174.05 115.4M181.33 112.79L179.65 115.4M187.29 112.23L185.25 115.4M193.25 111.67L190.85 115.4M198.94 111.53L196.45 115.4M204.54 111.53L202.05 115.4M172.66 117.88L171.25 119.85M178.65 117.34L176.85 119.85M184.63 116.8L182.45 119.85M190.62 116.27L188.05 119.85M196.33 116.11L193.65 119.85M201.93 116.11L199.25 119.85M207.53 116.11L204.85 119.85" stroke="#a890bc" stroke-width="0.55" fill="none"/><path d="M112.45 26.4h0M118.05 26.4h0M123.65 26.4h0M129.25 26.4h0M134.85 26.4h0M140.45 26.4h0M146.05 26.4h0M151.65 26.4h0M157.25 26.4h0M162.85 26.4h0M168.45 26.4h0M174.05 26.4h0M179.65 26.4h0M185.25 26.4h0M190.85 26.4h0M196.45 26.4h0M202.05 26.4h0M115.25 30.85h0M120.85 30.85h0M126.45 30.85h0M132.05 30.85h0M137.65 30.85h0M143.25 30.85h0M148.85 30.85h0M154.45 30.85h0M160.05 30.85h0M165.65 30.85h0M171.25 30.85h0M176.85 30.85h0M182.45 30.85h0M188.05 30.85h0M193.65 30.85h0M199.25 30.85h0M204.85 30.85h0M112.45 35.3h0M118.05 35.3h0M123.65 35.3h0M129.25 35.3h0M134.85 35.3h0M140.45 35.3h0M146.05 35.3h0M151.65 35.3h0M157.25 35.3h0M162.85 35.3h0M168.45 35.3h0M174.05 35.3h0M179.65 35.3h0M185.25 35.3h0M190.85 35.3h0M196.45 35.3h0M202.05 35.3h0M115.25 39.75h0M120.85 39.75h0M126.45 39.75h0M132.05 39.75h0M137.65 39.75h0M143.25 39.75h0M148.85 39.75h0M154.45 39.75h0M160.05 39.75h0M165.65 39.75h0M171.25 39.75h0M176.85 39.75h0M182.45 39.75h0M188.05 39.75h0M193.65 39.75h0M199.25 39.75h0M204.85 39.75h0M112.45 44.2h0M118.05 44.2h0M123.65 44.2h0M129.25 44.2h0M134.85 44.2h0M140.45 44.2h0M146.05 44.2h0M151.65 44.2h0M157.25 44.2h0M162.85 44.2h0M168.45 44.2h0M174.05 44.2h0M179.65 44.2h0M185.25 44.2h0M190.85 44.2h0M196.45 44.2h0M202.05 44.2h0M115.25 48.65h0M120.85 48.65h0M126.45 48.65h0M132.05 48.65h0M137.65 48.65h0M143.25 48.65h0M148.85 48.65h0M154.45 48.65h0M160.05 48.65h0M165.65 48.65h0M171.25 48.65h0M176.85 48.65h0M182.45 48.65h0M188.05 48.65h0M193.65 48.65h0M199.25 48.65h0M204.85 48.65h0M112.45 53.1h0M118.05 53.1h0M123.65 53.1h0M129.25 53.1h0M134.85 53.1h0M140.45 53.1h0M146.05 53.1h0M151.65 53.1h0M157.25 53.1h0M162.85 53.1h0M168.45 53.1h0M174.05 53.1h0M179.65 53.1h0M185.25 53.1h0M190.85 53.1h0M196.45 53.1h0M202.05 53.1h0M115.25 57.55h0M120.85 57.55h0M126.45 57.55h0M132.05 57.55h0M137.65 57.55h0M143.25 57.55h0M148.85 57.55h0M154.45 57.55h0M160.05 57.55h0M165.65 57.55h0M171.25 57.55h0M176.85 57.55h0M182.45 57.55h0M188.05 57.55h0M193.65 57.55h0M199.25 57.55h0M204.85 57.55h0M112.45 62h0M118.05 62h0M123.65 62h0M129.25 62h0M134.85 62h0M140.45 62h0M146.05 62h0M151.65 62h0M157.25 62h0M162.85 62h0M168.45 62h0M174.05 62h0M179.65 62h0M185.25 62h0M190.85 62h0M196.45 62h0M202.05 62h0M115.25 66.45h0M120.85 66.45h0M126.45 66.45h0M132.05 66.45h0M137.65 66.45h0M143.25 66.45h0M148.85 66.45h0M154.45 66.45h0M160.05 66.45h0M165.65 66.45h0M171.25 66.45h0M176.85 66.45h0M182.45 66.45h0M188.05 66.45h0M193.65 66.45h0M199.25 66.45h0M204.85 66.45h0M112.45 70.9h0M118.05 70.9h0M123.65 70.9h0M129.25 70.9h0M134.85 70.9h0M140.45 70.9h0M146.05 70.9h0M151.65 70.9h0M157.25 70.9h0M162.85 70.9h0M168.45 70.9h0M174.05 70.9h0M179.65 70.9h0M185.25 70.9h0M190.85 70.9h0M196.45 70.9h0M202.05 70.9h0M115.25 75.35h0M120.85 75.35h0M126.45 75.35h0M132.05 75.35h0M137.65 75.35h0M143.25 75.35h0M148.85 75.35h0M154.45 75.35h0M160.05 75.35h0M165.65 75.35h0M171.25 75.35h0M176.85 75.35h0M182.45 75.35h0M188.05 75.35h0M193.65 75.35h0M199.25 75.35h0M204.85 75.35h0M112.45 79.8h0M118.05 79.8h0M123.65 79.8h0M129.25 79.8h0M134.85 79.8h0M140.45 79.8h0M146.05 79.8h0M151.65 79.8h0M157.25 79.8h0M162.85 79.8h0M168.45 79.8h0M174.05 79.8h0M179.65 79.8h0M185.25 79.8h0M190.85 79.8h0M196.45 79.8h0M202.05 79.8h0M115.25 84.25h0M120.85 84.25h0M126.45 84.25h0M132.05 84.25h0M137.65 84.25h0M143.25 84.25h0M148.85 84.25h0M154.45 84.25h0M160.05 84.25h0M165.65 84.25h0M171.25 84.25h0M176.85 84.25h0M182.45 84.25h0M188.05 84.25h0M193.65 84.25h0M199.25 84.25h0M204.85 84.25h0M112.45 88.7h0M118.05 88.7h0M123.65 88.7h0M129.25 88.7h0M134.85 88.7h0M140.45 88.7h0M146.05 88.7h0M151.65 88.7h0M157.25 88.7h0M162.85 88.7h0M168.45 88.7h0M174.05 88.7h0M179.65 88.7h0M185.25 88.7h0M190.85 88.7h0M196.45 88.7h0M202.05 88.7h0M115.25 93.15h0M120.85 93.15h0M126.45 93.15h0M132.05 93.15h0M137.65 93.15h0M143.25 93.15h0M148.85 93.15h0M154.45 93.15h0M160.05 93.15h0M165.65 93.15h0M171.25 93.15h0M176.85 93.15h0M182.45 93.15h0M188.05 93.15h0M193.65 93.15h0M199.25 93.15h0M204.85 93.15h0M112.45 97.6h0M118.05 97.6h0M123.65 97.6h0M129.25 97.6h0M134.85 97.6h0M140.45 97.6h0M146.05 97.6h0M151.65 97.6h0M157.25 97.6h0M162.85 97.6h0M168.45 97.6h0M174.05 97.6h0M179.65 97.6h0M185.25 97.6h0M190.85 97.6h0M196.45 97.6h0M202.05 97.6h0M115.25 102.05h0M120.85 102.05h0M126.45 102.05h0M132.05 102.05h0M137.65 102.05h0M143.25 102.05h0M148.85 102.05h0M154.45 102.05h0M160.05 102.05h0M165.65 102.05h0M171.25 102.05h0M176.85 102.05h0M182.45 102.05h0M188.05 102.05h0M193.65 102.05h0M199.25 102.05h0M204.85 102.05h0M112.45 106.5h0M118.05 106.5h0M123.65 106.5h0M129.25 106.5h0M134.85 106.5h0M140.45 106.5h0M146.05 106.5h0M151.65 106.5h0M157.25 106.5h0M162.85 106.5h0M168.45 106.5h0M174.05 106.5h0M179.65 106.5h0M185.25 106.5h0M190.85 106.5h0M196.45 106.5h0M202.05 106.5h0M115.25 110.95h0M120.85 110.95h0M126.45 110.95h0M132.05 110.95h0M137.65 110.95h0M143.25 110.95h0M148.85 110.95h0M154.45 110.95h0M160.05 110.95h0M165.65 110.95h0M171.25 110.95h0M176.85 110.95h0M182.45 110.95h0M188.05 110.95h0M193.65 110.95h0M199.25 110.95h0M204.85 110.95h0M112.45 115.4h0M118.05 115.4h0M123.65 115.4h0M129.25 115.4h0M134.85 115.4h0M140.45 115.4h0M146.05 115.4h0M151.65 115.4h0M157.25 115.4h0M162.85 115.4h0M168.45 115.4h0M174.05 115.4h0M179.65 115.4h0M185.25 115.4h0M190.85 115.4h0M196.45 115.4h0M202.05 115.4h0M115.25 119.85h0M120.85 119.85h0M126.45 119.85h0M132.05 119.85h0M137.65 119.85h0M143.25 119.85h0M148.85 119.85h0M154.45 119.85h0M160.05 119.85h0M165.65 119.85h0M171.25 119.85h0M176.85 119.85h0M182.45 119.85h0M188.05 119.85h0M193.65 119.85h0M199.25 119.85h0M204.85 119.85h0" stroke="#5a5a5a" stroke-width="1.1" stroke-linecap="round" fill="none"/><polyline points="158.65,24.2 161.55,29.6 165.55,38.9 170.85,49.6 177.55,56.3 181.65,63 184.25,68.4 182.95,73.7 185.65,81.8 187.15,86.2 182.95,90.5 178.95,95.2 177.55,101.8 173.55,109.9 169.55,116.6 167.15,120.7" fill="none" stroke="#a8a8a8" stroke-width="0.55"/><polyline points="114.45,26.8 118.65,28.1 122.65,30.2 125.55,33.7 122.65,37.8 120.05,41.2 117.35,45.2 120.05,51 118.65,56.3 116.05,61.7 118.65,66.2 121.15,70 123.25,74.2 126.05,78.5 127.55,84.1 128.25,85.5" fill="none" stroke="#a8a8a8" stroke-width="0.55"/><polyline points="110.65,92.5 112.75,92.5 118.45,89.7 124.05,86.9 128.25,85.5 133.85,86.9" fill="none" stroke="#a8a8a8" stroke-width="0.55"/><polyline points="133.85,86.9 139.55,91.1 145.15,95.4 147.25,101 145.85,106.6 143.65,110.8 146.65,116.2 150.65,120.7" fill="none" stroke="#a8a8a8" stroke-width="0.55"/><polyline points="110.65,71.1 114.65,69.7 118.65,68.4 121.15,70" fill="none" stroke="#a8a8a8" stroke-width="0.55"/><polyline points="110.65,108.2 118.65,106.7 126.65,105.2 134.65,102.7 137.45,101.8 145.45,104.5 153.45,107.2 158.85,115.2 161.55,121.1" fill="none" stroke="#a8a8a8" stroke-width="0.55"/><polyline points="125.55,33.7 130.65,31.2 136.65,29.2 143.65,30.2 148.65,27.2 154.65,25.2 158.65,24.2" fill="none" stroke="#a8a8a8" stroke-width="0.55"/><polyline points="140.65,48.2 144.65,52.2 150.65,51.2 156.65,54.2 162.65,57.2 166.65,54.2 170.85,49.6" fill="none" stroke="#a8a8a8" stroke-width="0.55"/><polyline points="150.65,80.2 156.65,82.2 162.65,80.7 168.65,81.7 174.65,79.2 180.65,81.7 185.65,81.8" fill="none" stroke="#a8a8a8" stroke-width="0.55"/><polyline points="147.25,101 152.65,98.2 158.65,96.7 164.65,94.7 170.65,92.2 178.95,95.2" fill="none" stroke="#a8a8a8" stroke-width="0.55"/><circle cx="158.65" cy="34.4" r="3.55" fill="#ea1414"/><circle cx="137.75" cy="45.8" r="3.55" fill="#f78010"/><circle cx="140.05" cy="38.2" r="3.55" fill="#ea1414"/><circle cx="126.95" cy="42.7" r="3.55" fill="#f78010"/><circle cx="136.05" cy="41.8" r="3.55" fill="#f78010"/><circle cx="149.85" cy="42.1" r="3.55" fill="#ea1414"/><circle cx="156.75" cy="46.2" r="3.55" fill="#f78010"/><circle cx="166.85" cy="48.6" r="3.55" fill="#f2e400"/><circle cx="126.95" cy="53.4" r="3.55" fill="#f78010"/><circle cx="140.95" cy="53.4" r="3.55" fill="#ea1414"/><circle cx="136.65" cy="56.3" r="3.55" fill="#f2e400"/><circle cx="160.05" cy="59" r="3.55" fill="#f2e400"/><circle cx="164.35" cy="58.4" r="3.55" fill="#f2e400"/><circle cx="161.25" cy="61.7" r="3.55" fill="#f78010"/><circle cx="149.85" cy="60.1" r="3.55" fill="#ea1414"/><circle cx="154.25" cy="63.1" r="3.55" fill="#f2e400"/><circle cx="165.35" cy="66.2" r="3.55" fill="#f78010"/><circle cx="173.55" cy="64" r="3.55" fill="#f0c800"/><circle cx="151.75" cy="67.2" r="3.55" fill="#f2e400"/><circle cx="169.35" cy="70.2" r="3.55" fill="#f2e400"/><circle cx="149.75" cy="71.2" r="3.55" fill="#f78010"/><circle cx="179.05" cy="71.9" r="3.55" fill="#f2e400"/><circle cx="132.75" cy="66" r="3.55" fill="#f2e400"/><circle cx="139.75" cy="65.3" r="3.55" fill="#f78010"/><circle cx="144.75" cy="75.7" r="3.55" fill="#f78010"/><circle cx="153.75" cy="75.4" r="3.55" fill="#f2e400"/><circle cx="166.35" cy="76.5" r="3.55" fill="#f0c800"/><circle cx="172.75" cy="78" r="3.55" fill="#f0c800"/><circle cx="141.65" cy="78.6" r="3.55" fill="#f78010"/><circle cx="137.35" cy="79.6" r="3.55" fill="#f78010"/><circle cx="166.15" cy="83.3" r="3.55" fill="#f0c800"/><circle cx="171.75" cy="85.7" r="3.55" fill="#f0c800"/><circle cx="180.85" cy="87.3" r="3.55" fill="#f2e400"/><circle cx="187.05" cy="85.7" r="3.55" fill="#80b010"/><circle cx="148.75" cy="86.8" r="3.55" fill="#88d818"/><circle cx="154.65" cy="97.2" r="3.55" fill="#d8e820"/><circle cx="162.35" cy="96.1" r="3.55" fill="#f2e400"/><circle cx="164.75" cy="103" r="3.55" fill="#b0e020"/><circle cx="178.75" cy="100.7" r="3.55" fill="#d8e820"/><circle cx="172.45" cy="108" r="3.55" fill="#c0d020"/><rect x="199.05" y="111" width="8" height="8.5" fill="#fff"/><text x="199.85" y="114.4" font-size="3.2" style="stroke:none;fill:#666">5 m/s</text><path d="M200.55 117.2h4.5" stroke="#777" stroke-width="0.6"/></g><rect x="110.65" y="24.2" width="97.4" height="96.2" fill="none" stroke="#d4c6c6" stroke-width="1"/><text x="261.7" y="22.2" font-size="10.4" text-anchor="middle">01-2017</text><clipPath id="cp2"><rect x="213" y="24.2" width="97.4" height="96.2"/></clipPath><g clip-path="url(#cp2)"><rect x="213" y="24.2" width="97.4" height="96.2" fill="#ffffff"/><path d="M215.74 24.63L214.8 26.4M221.34 24.63L220.4 26.4M226.94 24.63L226 26.4M232.54 24.63L231.6 26.4M238.14 24.63L237.2 26.4M243.74 24.63L242.8 26.4M249.34 24.63L248.4 26.4M254.94 24.63L254 26.4M260.54 24.63L259.6 26.4M218.54 29.08L217.6 30.85M224.14 29.08L223.2 30.85M229.74 29.08L228.8 30.85M235.34 29.08L234.4 30.85M240.94 29.08L240 30.85M246.54 29.08L245.6 30.85M252.14 29.08L251.2 30.85M257.74 29.08L256.8 30.85M263.34 29.08L262.4 30.85M215.74 33.53L214.8 35.3M221.34 33.53L220.4 35.3M226.94 33.53L226 35.3M232.54 33.53L231.6 35.3M238.14 33.53L237.2 35.3M243.74 33.53L242.8 35.3M249.34 33.53L248.4 35.3M254.94 33.53L254 35.3M260.54 33.53L259.6 35.3M266.14 33.53L265.2 35.3M218.54 37.98L217.6 39.75M224.14 37.98L223.2 39.75M229.74 37.98L228.8 39.75M235.34 37.98L234.4 39.75M240.94 37.98L240 39.75M246.54 37.98L245.6 39.75M252.14 37.98L251.2 39.75M257.74 37.98L256.8 39.75M263.34 37.98L262.4 39.75M268.94 37.98L268 39.75M215.74 42.43L214.8 44.2M221.34 42.43L220.4 44.2M226.94 42.43L226 44.2M232.54 42.43L231.6 44.2M238.14 42.43L237.2 44.2M243.74 42.43L242.8 44.2M249.34 42.43L248.4 44.2M254.94 42.43L254 44.2M260.54 42.43L259.6 44.2M266.14 42.43L265.2 44.2M271.74 42.43L270.8 44.2M218.54 46.88L217.6 48.65M224.14 46.88L223.2 48.65M229.74 46.88L228.8 48.65M235.34 46.88L234.4 48.65M240.94 46.88L240 48.65M246.54 46.88L245.6 48.65M252.14 46.88L251.2 48.65M257.74 46.88L256.8 48.65M263.34 46.88L262.4 48.65M268.94 46.88L268 48.65M274.54 46.88L273.6 48.65M215.74 51.33L214.8 53.1M221.34 51.33L220.4 53.1M226.94 51.33L226 53.1M232.54 51.33L231.6 53.1M238.14 51.33L237.2 53.1M243.74 51.33L242.8 53.1M249.34 51.33L248.4 53.1M254.94 51.33L254 53.1M260.54 51.33L259.6 53.1M266.14 51.33L265.2 53.1M271.74 51.33L270.8 53.1M277.34 51.33L276.4 53.1M218.54 55.78L217.6 57.55M224.14 55.78L223.2 57.55M229.74 55.78L228.8 57.55M235.34 55.78L234.4 57.55M240.94 55.78L240 57.55M246.54 55.78L245.6 57.55M252.14 55.78L251.2 57.55M257.74 55.78L256.8 57.55M263.34 55.78L262.4 57.55M268.94 55.78L268 57.55M274.54 55.78L273.6 57.55M280.14 55.78L279.2 57.55M215.74 60.23L214.8 62M221.34 60.23L220.4 62M226.94 60.23L226 62M232.54 60.23L231.6 62M238.14 60.23L237.2 62M243.74 60.23L242.8 62M249.34 60.23L248.4 62M254.94 60.23L254 62M260.54 60.23L259.6 62M266.14 60.23L265.2 62M271.74 60.23L270.8 62M277.34 60.23L276.4 62M282.94 60.23L282 62M218.54 64.68L217.6 66.45M224.14 64.68L223.2 66.45M229.74 64.68L228.8 66.45M235.34 64.68L234.4 66.45M240.94 64.68L240 66.45M246.54 64.68L245.6 66.45M252.14 64.68L251.2 66.45M257.74 64.68L256.8 66.45M263.34 64.68L262.4 66.45M268.94 64.68L268 66.45M274.54 64.68L273.6 66.45M280.14 64.68L279.2 66.45M285.74 64.68L284.8 66.45M215.74 69.13L214.8 70.9M221.34 69.13L220.4 70.9M226.94 69.13L226 70.9M232.54 69.13L231.6 70.9M238.14 69.13L237.2 70.9M243.74 69.13L242.8 70.9M249.34 69.13L248.4 70.9M254.94 69.13L254 70.9M260.54 69.13L259.6 70.9M266.14 69.13L265.2 70.9M271.74 69.13L270.8 70.9M277.34 69.13L276.4 70.9M282.94 69.13L282 70.9M288.54 69.13L287.6 70.9M218.54 73.58L217.6 75.35M224.14 73.58L223.2 75.35M229.74 73.58L228.8 75.35M235.34 73.58L234.4 75.35M240.94 73.58L240 75.35M246.54 73.58L245.6 75.35M252.14 73.58L251.2 75.35M257.74 73.58L256.8 75.35M263.34 73.58L262.4 75.35M268.94 73.58L268 75.35M274.54 73.58L273.6 75.35M280.14 73.58L279.2 75.35M285.74 73.58L284.8 75.35M215.74 78.03L214.8 79.8M221.34 78.03L220.4 79.8M226.94 78.03L226 79.8M232.54 78.03L231.6 79.8M238.14 78.03L237.2 79.8M243.74 78.03L242.8 79.8M249.34 78.03L248.4 79.8M254.94 78.03L254 79.8M260.54 78.03L259.6 79.8M266.14 78.03L265.2 79.8M271.74 78.03L270.8 79.8M277.34 78.03L276.4 79.8M282.94 78.03L282 79.8M288.54 78.03L287.6 79.8M218.54 82.48L217.6 84.25M224.14 82.48L223.2 84.25M229.74 82.48L228.8 84.25M235.34 82.48L234.4 84.25M240.94 82.48L240 84.25M246.54 82.48L245.6 84.25M252.14 82.48L251.2 84.25M257.74 82.48L256.8 84.25M263.34 82.48L262.4 84.25M268.94 82.48L268 84.25M274.54 82.48L273.6 84.25M280.14 82.48L279.2 84.25M285.74 82.48L284.8 84.25M291.34 82.48L290.4 84.25M215.74 86.93L214.8 88.7M221.34 86.93L220.4 88.7M226.94 86.93L226 88.7M232.54 86.93L231.6 88.7M238.14 86.93L237.2 88.7M243.74 86.93L242.8 88.7M249.34 86.93L248.4 88.7M254.94 86.93L254 88.7M260.54 86.93L259.6 88.7M266.14 86.93L265.2 88.7M271.74 86.93L270.8 88.7M277.34 86.93L276.4 88.7M282.94 86.93L282 88.7M288.54 86.93L287.6 88.7M218.54 91.38L217.6 93.15M224.14 91.38L223.2 93.15M229.74 91.38L228.8 93.15M235.34 91.38L234.4 93.15M240.94 91.38L240 93.15M246.54 91.38L245.6 93.15M252.14 91.38L251.2 93.15M257.74 91.38L256.8 93.15M263.34 91.38L262.4 93.15M268.94 91.38L268 93.15M274.54 91.38L273.6 93.15M280.14 91.38L279.2 93.15M285.74 91.38L284.8 93.15M215.74 95.83L214.8 97.6M221.34 95.83L220.4 97.6M226.94 95.83L226 97.6M232.54 95.83L231.6 97.6M238.14 95.83L237.2 97.6M243.74 95.83L242.8 97.6M249.34 95.83L248.4 97.6M254.94 95.83L254 97.6M260.54 95.83L259.6 97.6M266.14 95.83L265.2 97.6M271.74 95.83L270.8 97.6M277.34 95.83L276.4 97.6M282.94 95.83L282 97.6M218.54 100.28L217.6 102.05M224.14 100.28L223.2 102.05M229.74 100.28L228.8 102.05M235.34 100.28L234.4 102.05M240.94 100.28L240 102.05M246.54 100.28L245.6 102.05M252.14 100.28L251.2 102.05M257.74 100.28L256.8 102.05M263.34 100.28L262.4 102.05M268.94 100.28L268 102.05M274.54 100.28L273.6 102.05M280.14 100.28L279.2 102.05M215.74 104.73L214.8 106.5M221.34 104.73L220.4 106.5M226.94 104.73L226 106.5M232.54 104.73L231.6 106.5M238.14 104.73L237.2 106.5M243.74 104.73L242.8 106.5M249.34 104.73L248.4 106.5M254.94 104.73L254 106.5M260.54 104.73L259.6 106.5M266.14 104.73L265.2 106.5M271.74 104.73L270.8 106.5M277.34 104.73L276.4 106.5M218.54 109.18L217.6 110.95M224.14 109.18L223.2 110.95M229.74 109.18L228.8 110.95M235.34 109.18L234.4 110.95M240.94 109.18L240 110.95M246.54 109.18L245.6 110.95M252.14 109.18L251.2 110.95M257.74 109.18L256.8 110.95M263.34 109.18L262.4 110.95M268.94 109.18L268 110.95M274.54 109.18L273.6 110.95M215.74 113.63L214.8 115.4M221.34 113.63L220.4 115.4M226.94 113.63L226 115.4M232.54 113.63L231.6 115.4M238.14 113.63L237.2 115.4M243.74 113.63L242.8 115.4M249.34 113.63L248.4 115.4M254.94 113.63L254 115.4M260.54 113.63L259.6 115.4M266.14 113.63L265.2 115.4M271.74 113.63L270.8 115.4M218.54 118.08L217.6 119.85M224.14 118.08L223.2 119.85M229.74 118.08L228.8 119.85M235.34 118.08L234.4 119.85M240.94 118.08L240 119.85M246.54 118.08L245.6 119.85M252.14 118.08L251.2 119.85M257.74 118.08L256.8 119.85M263.34 118.08L262.4 119.85M268.94 118.08L268 119.85" stroke="#9c9c9c" stroke-width="0.5" fill="none"/><path d="M264.72 24.09L265.2 26.4M270.19 23.44L270.8 26.4M275.66 22.8L276.4 26.4M281.12 22.15L282 26.4M286.67 21.89L287.6 26.4M292.27 21.89L293.2 26.4M297.87 21.89L298.8 26.4M303.47 21.89L304.4 26.4M267.56 28.47L268 30.85M273.04 27.82L273.6 30.85M278.52 27.17L279.2 30.85M284 26.52L284.8 30.85M289.56 26.33L290.4 30.85M295.16 26.33L296 30.85M300.76 26.33L301.6 30.85M306.36 26.33L307.2 30.85M270.4 32.81L270.8 35.3M275.9 32.15L276.4 35.3M281.39 31.5L282 35.3M286.89 30.85L287.6 35.3M292.47 30.76L293.2 35.3M298.07 30.76L298.8 35.3M303.67 30.76L304.4 35.3M273.26 37.15L273.6 39.75M278.77 36.49L279.2 39.75M284.28 35.84L284.8 39.75M289.8 35.19L290.4 39.75M295.4 35.19L296 39.75M301 35.19L301.6 39.75M306.6 35.19L307.2 39.75M276.13 41.52L276.4 44.2M281.66 40.86L282 44.2M287.2 40.2L287.6 44.2M292.74 39.62L293.2 44.2M298.34 39.62L298.8 44.2M303.94 39.62L304.4 44.2M279.01 45.89L279.2 48.65M284.57 45.23L284.8 48.65M290.12 44.57L290.4 48.65M295.69 44.06L296 48.65M301.29 44.06L301.6 48.65M306.89 44.06L307.2 48.65M281.91 50.48L282 53.1M287.49 49.81L287.6 53.1M293.07 49.15L293.2 53.1M298.64 48.5L298.8 53.1M304.24 48.5L304.4 53.1M284.8 55.06L284.8 57.55M290.41 54.4L290.4 57.55M296.01 53.74L296 57.55M301.61 53.08L301.6 57.55M307.21 52.95L307.2 57.55M287.7 59.5L287.6 62M293.32 58.84L293.2 62M298.95 58.18L298.8 62M304.58 57.52L304.4 62M290.6 63.9L290.4 66.45M296.25 63.24L296 66.45M301.9 62.58L301.6 66.45M307.55 61.92L307.2 66.45M293.54 68.07L293.2 70.9M299.21 67.41L298.8 70.9M304.89 66.75L304.4 70.9M290.8 72.84L290.4 75.35M296.51 72.19L296 75.35M302.21 71.54L301.6 75.35M307.92 70.88L307.2 75.35M293.74 77.16L293.2 79.8M299.47 76.51L298.8 79.8M305.2 75.86L304.4 79.8M296.69 81.49L296 84.25M302.45 80.85L301.6 84.25M308.21 80.2L307.2 84.25M293.98 86.09L293.2 88.7M299.76 85.45L298.8 88.7M305.55 84.82L304.4 88.7M291.34 90.44L290.4 93.15M297.16 89.81L296 93.15M302.97 89.19L301.6 93.15M308.71 88.8L307.2 93.15M288.64 95L287.6 97.6M294.49 94.38L293.2 97.6M300.33 93.77L298.8 97.6M306.11 93.33L304.4 97.6M285.87 99.69L284.8 102.05M291.75 99.09L290.4 102.05M297.62 98.48L296 102.05M303.5 97.88L301.6 102.05M309.1 97.86L307.2 102.05M283.15 104.26L282 106.5M289.05 103.67L287.6 106.5M294.96 103.08L293.2 106.5M300.86 102.49L298.8 106.5M306.5 102.41L304.4 106.5M280.43 108.82L279.2 110.95M286.36 108.24L284.8 110.95M292.29 107.67L290.4 110.95M298.22 107.1L296 110.95M303.9 106.96L301.6 110.95M309.5 106.96L307.2 110.95M277.73 113.34L276.4 115.4M283.68 112.79L282 115.4M289.64 112.23L287.6 115.4M295.6 111.67L293.2 115.4M301.29 111.53L298.8 115.4M306.89 111.53L304.4 115.4M275.01 117.88L273.6 119.85M281 117.34L279.2 119.85M286.98 116.8L284.8 119.85M292.97 116.27L290.4 119.85M298.68 116.11L296 119.85M304.28 116.11L301.6 119.85M309.88 116.11L307.2 119.85" stroke="#a890bc" stroke-width="0.55" fill="none"/><path d="M214.8 26.4h0M220.4 26.4h0M226 26.4h0M231.6 26.4h0M237.2 26.4h0M242.8 26.4h0M248.4 26.4h0M254 26.4h0M259.6 26.4h0M265.2 26.4h0M270.8 26.4h0M276.4 26.4h0M282 26.4h0M287.6 26.4h0M293.2 26.4h0M298.8 26.4h0M304.4 26.4h0M217.6 30.85h0M223.2 30.85h0M228.8 30.85h0M234.4 30.85h0M240 30.85h0M245.6 30.85h0M251.2 30.85h0M256.8 30.85h0M262.4 30.85h0M268 30.85h0M273.6 30.85h0M279.2 30.85h0M284.8 30.85h0M290.4 30.85h0M296 30.85h0M301.6 30.85h0M307.2 30.85h0M214.8 35.3h0M220.4 35.3h0M226 35.3h0M231.6 35.3h0M237.2 35.3h0M242.8 35.3h0M248.4 35.3h0M254 35.3h0M259.6 35.3h0M265.2 35.3h0M270.8 35.3h0M276.4 35.3h0M282 35.3h0M287.6 35.3h0M293.2 35.3h0M298.8 35.3h0M304.4 35.3h0M217.6 39.75h0M223.2 39.75h0M228.8 39.75h0M234.4 39.75h0M240 39.75h0M245.6 39.75h0M251.2 39.75h0M256.8 39.75h0M262.4 39.75h0M268 39.75h0M273.6 39.75h0M279.2 39.75h0M284.8 39.75h0M290.4 39.75h0M296 39.75h0M301.6 39.75h0M307.2 39.75h0M214.8 44.2h0M220.4 44.2h0M226 44.2h0M231.6 44.2h0M237.2 44.2h0M242.8 44.2h0M248.4 44.2h0M254 44.2h0M259.6 44.2h0M265.2 44.2h0M270.8 44.2h0M276.4 44.2h0M282 44.2h0M287.6 44.2h0M293.2 44.2h0M298.8 44.2h0M304.4 44.2h0M217.6 48.65h0M223.2 48.65h0M228.8 48.65h0M234.4 48.65h0M240 48.65h0M245.6 48.65h0M251.2 48.65h0M256.8 48.65h0M262.4 48.65h0M268 48.65h0M273.6 48.65h0M279.2 48.65h0M284.8 48.65h0M290.4 48.65h0M296 48.65h0M301.6 48.65h0M307.2 48.65h0M214.8 53.1h0M220.4 53.1h0M226 53.1h0M231.6 53.1h0M237.2 53.1h0M242.8 53.1h0M248.4 53.1h0M254 53.1h0M259.6 53.1h0M265.2 53.1h0M270.8 53.1h0M276.4 53.1h0M282 53.1h0M287.6 53.1h0M293.2 53.1h0M298.8 53.1h0M304.4 53.1h0M217.6 57.55h0M223.2 57.55h0M228.8 57.55h0M234.4 57.55h0M240 57.55h0M245.6 57.55h0M251.2 57.55h0M256.8 57.55h0M262.4 57.55h0M268 57.55h0M273.6 57.55h0M279.2 57.55h0M284.8 57.55h0M290.4 57.55h0M296 57.55h0M301.6 57.55h0M307.2 57.55h0M214.8 62h0M220.4 62h0M226 62h0M231.6 62h0M237.2 62h0M242.8 62h0M248.4 62h0M254 62h0M259.6 62h0M265.2 62h0M270.8 62h0M276.4 62h0M282 62h0M287.6 62h0M293.2 62h0M298.8 62h0M304.4 62h0M217.6 66.45h0M223.2 66.45h0M228.8 66.45h0M234.4 66.45h0M240 66.45h0M245.6 66.45h0M251.2 66.45h0M256.8 66.45h0M262.4 66.45h0M268 66.45h0M273.6 66.45h0M279.2 66.45h0M284.8 66.45h0M290.4 66.45h0M296 66.45h0M301.6 66.45h0M307.2 66.45h0M214.8 70.9h0M220.4 70.9h0M226 70.9h0M231.6 70.9h0M237.2 70.9h0M242.8 70.9h0M248.4 70.9h0M254 70.9h0M259.6 70.9h0M265.2 70.9h0M270.8 70.9h0M276.4 70.9h0M282 70.9h0M287.6 70.9h0M293.2 70.9h0M298.8 70.9h0M304.4 70.9h0M217.6 75.35h0M223.2 75.35h0M228.8 75.35h0M234.4 75.35h0M240 75.35h0M245.6 75.35h0M251.2 75.35h0M256.8 75.35h0M262.4 75.35h0M268 75.35h0M273.6 75.35h0M279.2 75.35h0M284.8 75.35h0M290.4 75.35h0M296 75.35h0M301.6 75.35h0M307.2 75.35h0M214.8 79.8h0M220.4 79.8h0M226 79.8h0M231.6 79.8h0M237.2 79.8h0M242.8 79.8h0M248.4 79.8h0M254 79.8h0M259.6 79.8h0M265.2 79.8h0M270.8 79.8h0M276.4 79.8h0M282 79.8h0M287.6 79.8h0M293.2 79.8h0M298.8 79.8h0M304.4 79.8h0M217.6 84.25h0M223.2 84.25h0M228.8 84.25h0M234.4 84.25h0M240 84.25h0M245.6 84.25h0M251.2 84.25h0M256.8 84.25h0M262.4 84.25h0M268 84.25h0M273.6 84.25h0M279.2 84.25h0M284.8 84.25h0M290.4 84.25h0M296 84.25h0M301.6 84.25h0M307.2 84.25h0M214.8 88.7h0M220.4 88.7h0M226 88.7h0M231.6 88.7h0M237.2 88.7h0M242.8 88.7h0M248.4 88.7h0M254 88.7h0M259.6 88.7h0M265.2 88.7h0M270.8 88.7h0M276.4 88.7h0M282 88.7h0M287.6 88.7h0M293.2 88.7h0M298.8 88.7h0M304.4 88.7h0M217.6 93.15h0M223.2 93.15h0M228.8 93.15h0M234.4 93.15h0M240 93.15h0M245.6 93.15h0M251.2 93.15h0M256.8 93.15h0M262.4 93.15h0M268 93.15h0M273.6 93.15h0M279.2 93.15h0M284.8 93.15h0M290.4 93.15h0M296 93.15h0M301.6 93.15h0M307.2 93.15h0M214.8 97.6h0M220.4 97.6h0M226 97.6h0M231.6 97.6h0M237.2 97.6h0M242.8 97.6h0M248.4 97.6h0M254 97.6h0M259.6 97.6h0M265.2 97.6h0M270.8 97.6h0M276.4 97.6h0M282 97.6h0M287.6 97.6h0M293.2 97.6h0M298.8 97.6h0M304.4 97.6h0M217.6 102.05h0M223.2 102.05h0M228.8 102.05h0M234.4 102.05h0M240 102.05h0M245.6 102.05h0M251.2 102.05h0M256.8 102.05h0M262.4 102.05h0M268 102.05h0M273.6 102.05h0M279.2 102.05h0M284.8 102.05h0M290.4 102.05h0M296 102.05h0M301.6 102.05h0M307.2 102.05h0M214.8 106.5h0M220.4 106.5h0M226 106.5h0M231.6 106.5h0M237.2 106.5h0M242.8 106.5h0M248.4 106.5h0M254 106.5h0M259.6 106.5h0M265.2 106.5h0M270.8 106.5h0M276.4 106.5h0M282 106.5h0M287.6 106.5h0M293.2 106.5h0M298.8 106.5h0M304.4 106.5h0M217.6 110.95h0M223.2 110.95h0M228.8 110.95h0M234.4 110.95h0M240 110.95h0M245.6 110.95h0M251.2 110.95h0M256.8 110.95h0M262.4 110.95h0M268 110.95h0M273.6 110.95h0M279.2 110.95h0M284.8 110.95h0M290.4 110.95h0M296 110.95h0M301.6 110.95h0M307.2 110.95h0M214.8 115.4h0M220.4 115.4h0M226 115.4h0M231.6 115.4h0M237.2 115.4h0M242.8 115.4h0M248.4 115.4h0M254 115.4h0M259.6 115.4h0M265.2 115.4h0M270.8 115.4h0M276.4 115.4h0M282 115.4h0M287.6 115.4h0M293.2 115.4h0M298.8 115.4h0M304.4 115.4h0M217.6 119.85h0M223.2 119.85h0M228.8 119.85h0M234.4 119.85h0M240 119.85h0M245.6 119.85h0M251.2 119.85h0M256.8 119.85h0M262.4 119.85h0M268 119.85h0M273.6 119.85h0M279.2 119.85h0M284.8 119.85h0M290.4 119.85h0M296 119.85h0M301.6 119.85h0M307.2 119.85h0" stroke="#5a5a5a" stroke-width="1.1" stroke-linecap="round" fill="none"/><polyline points="261,24.2 263.9,29.6 267.9,38.9 273.2,49.6 279.9,56.3 284,63 286.6,68.4 285.3,73.7 288,81.8 289.5,86.2 285.3,90.5 281.3,95.2 279.9,101.8 275.9,109.9 271.9,116.6 269.5,120.7" fill="none" stroke="#a8a8a8" stroke-width="0.55"/><polyline points="216.8,26.8 221,28.1 225,30.2 227.9,33.7 225,37.8 222.4,41.2 219.7,45.2 222.4,51 221,56.3 218.4,61.7 221,66.2 223.5,70 225.6,74.2 228.4,78.5 229.9,84.1 230.6,85.5" fill="none" stroke="#a8a8a8" stroke-width="0.55"/><polyline points="213,92.5 215.1,92.5 220.8,89.7 226.4,86.9 230.6,85.5 236.2,86.9" fill="none" stroke="#a8a8a8" stroke-width="0.55"/><polyline points="236.2,86.9 241.9,91.1 247.5,95.4 249.6,101 248.2,106.6 246,110.8 249,116.2 253,120.7" fill="none" stroke="#a8a8a8" stroke-width="0.55"/><polyline points="213,71.1 217,69.7 221,68.4 223.5,70" fill="none" stroke="#a8a8a8" stroke-width="0.55"/><polyline points="213,108.2 221,106.7 229,105.2 237,102.7 239.8,101.8 247.8,104.5 255.8,107.2 261.2,115.2 263.9,121.1" fill="none" stroke="#a8a8a8" stroke-width="0.55"/><polyline points="227.9,33.7 233,31.2 239,29.2 246,30.2 251,27.2 257,25.2 261,24.2" fill="none" stroke="#a8a8a8" stroke-width="0.55"/><polyline points="243,48.2 247,52.2 253,51.2 259,54.2 265,57.2 269,54.2 273.2,49.6" fill="none" stroke="#a8a8a8" stroke-width="0.55"/><polyline points="253,80.2 259,82.2 265,80.7 271,81.7 277,79.2 283,81.7 288,81.8" fill="none" stroke="#a8a8a8" stroke-width="0.55"/><polyline points="249.6,101 255,98.2 261,96.7 267,94.7 273,92.2 281.3,95.2" fill="none" stroke="#a8a8a8" stroke-width="0.55"/><circle cx="261" cy="34.4" r="3.55" fill="#d8e820"/><circle cx="240.1" cy="45.8" r="3.55" fill="#c0103c"/><circle cx="242.4" cy="38.2" r="3.55" fill="#ea1414"/><circle cx="229.3" cy="42.7" r="3.55" fill="#e01020"/><circle cx="238.4" cy="41.8" r="3.55" fill="#ea1414"/><circle cx="252.2" cy="42.1" r="3.55" fill="#f78010"/><circle cx="259.1" cy="46.2" r="3.55" fill="#f2e400"/><circle cx="269.2" cy="48.6" r="3.55" fill="#d8e820"/><circle cx="229.3" cy="53.4" r="3.55" fill="#c0103c"/><circle cx="243.3" cy="53.4" r="3.55" fill="#f04010"/><circle cx="239" cy="56.3" r="3.55" fill="#f04010"/><circle cx="262.4" cy="59" r="3.55" fill="#f0c800"/><circle cx="266.7" cy="58.4" r="3.55" fill="#f0c800"/><circle cx="263.6" cy="61.7" r="3.55" fill="#f0c800"/><circle cx="252.2" cy="60.1" r="3.55" fill="#f0c800"/><circle cx="256.6" cy="63.1" r="3.55" fill="#d8e820"/><circle cx="267.7" cy="66.2" r="3.55" fill="#d8e820"/><circle cx="275.9" cy="64" r="3.55" fill="#d8e820"/><circle cx="254.1" cy="67.2" r="3.55" fill="#f2e400"/><circle cx="271.7" cy="70.2" r="3.55" fill="#f2e400"/><circle cx="252.1" cy="71.2" r="3.55" fill="#f2e400"/><circle cx="281.4" cy="71.9" r="3.55" fill="#b0e020"/><circle cx="235.1" cy="66" r="3.55" fill="#f2e400"/><circle cx="242.1" cy="65.3" r="3.55" fill="#f78010"/><circle cx="247.1" cy="75.7" r="3.55" fill="#f78010"/><circle cx="256.1" cy="75.4" r="3.55" fill="#f78010"/><circle cx="268.7" cy="76.5" r="3.55" fill="#f0c800"/><circle cx="275.1" cy="78" r="3.55" fill="#b0e020"/><circle cx="244" cy="78.6" r="3.55" fill="#e01030"/><circle cx="239.7" cy="79.6" r="3.55" fill="#f04010"/><circle cx="268.5" cy="83.3" r="3.55" fill="#f0c800"/><circle cx="274.1" cy="85.7" r="3.55" fill="#d8e820"/><circle cx="283.2" cy="87.3" r="3.55" fill="#b0e020"/><circle cx="289.4" cy="85.7" r="3.55" fill="#50b018"/><circle cx="251.1" cy="86.8" r="3.55" fill="#b0e020"/><circle cx="257" cy="97.2" r="3.55" fill="#d8e820"/><circle cx="264.7" cy="96.1" r="3.55" fill="#f2e400"/><circle cx="267.1" cy="103" r="3.55" fill="#60d010"/><circle cx="281.1" cy="100.7" r="3.55" fill="#b0e020"/><circle cx="274.8" cy="108" r="3.55" fill="#90c010"/><rect x="301.4" y="111" width="8" height="8.5" fill="#fff"/><text x="302.2" y="114.4" font-size="3.2" style="stroke:none;fill:#666">5 m/s</text><path d="M302.9 117.2h4.5" stroke="#777" stroke-width="0.6"/></g><rect x="213" y="24.2" width="97.4" height="96.2" fill="none" stroke="#d4c6c6" stroke-width="1"/><text x="364.05" y="22.2" font-size="10.4" text-anchor="middle">01-2018</text><clipPath id="cp3"><rect x="315.35" y="24.2" width="97.4" height="96.2"/></clipPath><g clip-path="url(#cp3)"><rect x="315.35" y="24.2" width="97.4" height="96.2" fill="#ffffff"/><path d="M318 24.59L317.15 26.4M323.6 24.59L322.75 26.4M329.2 24.59L328.35 26.4M334.8 24.59L333.95 26.4M340.4 24.59L339.55 26.4M346 24.59L345.15 26.4M351.6 24.59L350.75 26.4M357.2 24.59L356.35 26.4M362.8 24.59L361.95 26.4M320.8 29.04L319.95 30.85M326.4 29.04L325.55 30.85M332 29.04L331.15 30.85M337.6 29.04L336.75 30.85M343.2 29.04L342.35 30.85M348.8 29.04L347.95 30.85M354.4 29.04L353.55 30.85M360 29.04L359.15 30.85M365.6 29.04L364.75 30.85M318 33.49L317.15 35.3M323.6 33.49L322.75 35.3M329.2 33.49L328.35 35.3M334.8 33.49L333.95 35.3M340.4 33.49L339.55 35.3M346 33.49L345.15 35.3M351.6 33.49L350.75 35.3M357.2 33.49L356.35 35.3M362.8 33.49L361.95 35.3M368.4 33.49L367.55 35.3M320.8 37.94L319.95 39.75M326.4 37.94L325.55 39.75M332 37.94L331.15 39.75M337.6 37.94L336.75 39.75M343.2 37.94L342.35 39.75M348.8 37.94L347.95 39.75M354.4 37.94L353.55 39.75M360 37.94L359.15 39.75M365.6 37.94L364.75 39.75M371.2 37.94L370.35 39.75M318 42.39L317.15 44.2M323.6 42.39L322.75 44.2M329.2 42.39L328.35 44.2M334.8 42.39L333.95 44.2M340.4 42.39L339.55 44.2M346 42.39L345.15 44.2M351.6 42.39L350.75 44.2M357.2 42.39L356.35 44.2M362.8 42.39L361.95 44.2M368.4 42.39L367.55 44.2M374 42.39L373.15 44.2M320.8 46.84L319.95 48.65M326.4 46.84L325.55 48.65M332 46.84L331.15 48.65M337.6 46.84L336.75 48.65M343.2 46.84L342.35 48.65M348.8 46.84L347.95 48.65M354.4 46.84L353.55 48.65M360 46.84L359.15 48.65M365.6 46.84L364.75 48.65M371.2 46.84L370.35 48.65M376.8 46.84L375.95 48.65M318 51.29L317.15 53.1M323.6 51.29L322.75 53.1M329.2 51.29L328.35 53.1M334.8 51.29L333.95 53.1M340.4 51.29L339.55 53.1M346 51.29L345.15 53.1M351.6 51.29L350.75 53.1M357.2 51.29L356.35 53.1M362.8 51.29L361.95 53.1M368.4 51.29L367.55 53.1M374 51.29L373.15 53.1M379.6 51.29L378.75 53.1M320.8 55.74L319.95 57.55M326.4 55.74L325.55 57.55M332 55.74L331.15 57.55M337.6 55.74L336.75 57.55M343.2 55.74L342.35 57.55M348.8 55.74L347.95 57.55M354.4 55.74L353.55 57.55M360 55.74L359.15 57.55M365.6 55.74L364.75 57.55M371.2 55.74L370.35 57.55M376.8 55.74L375.95 57.55M382.4 55.74L381.55 57.55M318 60.19L317.15 62M323.6 60.19L322.75 62M329.2 60.19L328.35 62M334.8 60.19L333.95 62M340.4 60.19L339.55 62M346 60.19L345.15 62M351.6 60.19L350.75 62M357.2 60.19L356.35 62M362.8 60.19L361.95 62M368.4 60.19L367.55 62M374 60.19L373.15 62M379.6 60.19L378.75 62M385.2 60.19L384.35 62M320.8 64.64L319.95 66.45M326.4 64.64L325.55 66.45M332 64.64L331.15 66.45M337.6 64.64L336.75 66.45M343.2 64.64L342.35 66.45M348.8 64.64L347.95 66.45M354.4 64.64L353.55 66.45M360 64.64L359.15 66.45M365.6 64.64L364.75 66.45M371.2 64.64L370.35 66.45M376.8 64.64L375.95 66.45M382.4 64.64L381.55 66.45M388 64.64L387.15 66.45M318 69.09L317.15 70.9M323.6 69.09L322.75 70.9M329.2 69.09L328.35 70.9M334.8 69.09L333.95 70.9M340.4 69.09L339.55 70.9M346 69.09L345.15 70.9M351.6 69.09L350.75 70.9M357.2 69.09L356.35 70.9M362.8 69.09L361.95 70.9M368.4 69.09L367.55 70.9M374 69.09L373.15 70.9M379.6 69.09L378.75 70.9M385.2 69.09L384.35 70.9M390.8 69.09L389.95 70.9M320.8 73.54L319.95 75.35M326.4 73.54L325.55 75.35M332 73.54L331.15 75.35M337.6 73.54L336.75 75.35M343.2 73.54L342.35 75.35M348.8 73.54L347.95 75.35M354.4 73.54L353.55 75.35M360 73.54L359.15 75.35M365.6 73.54L364.75 75.35M371.2 73.54L370.35 75.35M376.8 73.54L375.95 75.35M382.4 73.54L381.55 75.35M388 73.54L387.15 75.35M318 77.99L317.15 79.8M323.6 77.99L322.75 79.8M329.2 77.99L328.35 79.8M334.8 77.99L333.95 79.8M340.4 77.99L339.55 79.8M346 77.99L345.15 79.8M351.6 77.99L350.75 79.8M357.2 77.99L356.35 79.8M362.8 77.99L361.95 79.8M368.4 77.99L367.55 79.8M374 77.99L373.15 79.8M379.6 77.99L378.75 79.8M385.2 77.99L384.35 79.8M390.8 77.99L389.95 79.8M320.8 82.44L319.95 84.25M326.4 82.44L325.55 84.25M332 82.44L331.15 84.25M337.6 82.44L336.75 84.25M343.2 82.44L342.35 84.25M348.8 82.44L347.95 84.25M354.4 82.44L353.55 84.25M360 82.44L359.15 84.25M365.6 82.44L364.75 84.25M371.2 82.44L370.35 84.25M376.8 82.44L375.95 84.25M382.4 82.44L381.55 84.25M388 82.44L387.15 84.25M393.6 82.44L392.75 84.25M318 86.89L317.15 88.7M323.6 86.89L322.75 88.7M329.2 86.89L328.35 88.7M334.8 86.89L333.95 88.7M340.4 86.89L339.55 88.7M346 86.89L345.15 88.7M351.6 86.89L350.75 88.7M357.2 86.89L356.35 88.7M362.8 86.89L361.95 88.7M368.4 86.89L367.55 88.7M374 86.89L373.15 88.7M379.6 86.89L378.75 88.7M385.2 86.89L384.35 88.7M390.8 86.89L389.95 88.7M320.8 91.34L319.95 93.15M326.4 91.34L325.55 93.15M332 91.34L331.15 93.15M337.6 91.34L336.75 93.15M343.2 91.34L342.35 93.15M348.8 91.34L347.95 93.15M354.4 91.34L353.55 93.15M360 91.34L359.15 93.15M365.6 91.34L364.75 93.15M371.2 91.34L370.35 93.15M376.8 91.34L375.95 93.15M382.4 91.34L381.55 93.15M388 91.34L387.15 93.15M318 95.79L317.15 97.6M323.6 95.79L322.75 97.6M329.2 95.79L328.35 97.6M334.8 95.79L333.95 97.6M340.4 95.79L339.55 97.6M346 95.79L345.15 97.6M351.6 95.79L350.75 97.6M357.2 95.79L356.35 97.6M362.8 95.79L361.95 97.6M368.4 95.79L367.55 97.6M374 95.79L373.15 97.6M379.6 95.79L378.75 97.6M385.2 95.79L384.35 97.6M320.8 100.24L319.95 102.05M326.4 100.24L325.55 102.05M332 100.24L331.15 102.05M337.6 100.24L336.75 102.05M343.2 100.24L342.35 102.05M348.8 100.24L347.95 102.05M354.4 100.24L353.55 102.05M360 100.24L359.15 102.05M365.6 100.24L364.75 102.05M371.2 100.24L370.35 102.05M376.8 100.24L375.95 102.05M382.4 100.24L381.55 102.05M318 104.69L317.15 106.5M323.6 104.69L322.75 106.5M329.2 104.69L328.35 106.5M334.8 104.69L333.95 106.5M340.4 104.69L339.55 106.5M346 104.69L345.15 106.5M351.6 104.69L350.75 106.5M357.2 104.69L356.35 106.5M362.8 104.69L361.95 106.5M368.4 104.69L367.55 106.5M374 104.69L373.15 106.5M379.6 104.69L378.75 106.5M320.8 109.14L319.95 110.95M326.4 109.14L325.55 110.95M332 109.14L331.15 110.95M337.6 109.14L336.75 110.95M343.2 109.14L342.35 110.95M348.8 109.14L347.95 110.95M354.4 109.14L353.55 110.95M360 109.14L359.15 110.95M365.6 109.14L364.75 110.95M371.2 109.14L370.35 110.95M376.8 109.14L375.95 110.95M318 113.59L317.15 115.4M323.6 113.59L322.75 115.4M329.2 113.59L328.35 115.4M334.8 113.59L333.95 115.4M340.4 113.59L339.55 115.4M346 113.59L345.15 115.4M351.6 113.59L350.75 115.4M357.2 113.59L356.35 115.4M362.8 113.59L361.95 115.4M368.4 113.59L367.55 115.4M374 113.59L373.15 115.4M320.8 118.04L319.95 119.85M326.4 118.04L325.55 119.85M332 118.04L331.15 119.85M337.6 118.04L336.75 119.85M343.2 118.04L342.35 119.85M348.8 118.04L347.95 119.85M354.4 118.04L353.55 119.85M360 118.04L359.15 119.85M365.6 118.04L364.75 119.85M371.2 118.04L370.35 119.85" stroke="#9c9c9c" stroke-width="0.5" fill="none"/><path d="M367.07 24.09L367.55 26.4M372.54 23.44L373.15 26.4M378.01 22.8L378.75 26.4M383.47 22.15L384.35 26.4M389.02 21.89L389.95 26.4M394.62 21.89L395.55 26.4M400.22 21.89L401.15 26.4M405.82 21.89L406.75 26.4M369.91 28.47L370.35 30.85M375.39 27.82L375.95 30.85M380.87 27.17L381.55 30.85M386.35 26.52L387.15 30.85M391.91 26.33L392.75 30.85M397.51 26.33L398.35 30.85M403.11 26.33L403.95 30.85M408.71 26.33L409.55 30.85M372.75 32.81L373.15 35.3M378.25 32.15L378.75 35.3M383.74 31.5L384.35 35.3M389.24 30.85L389.95 35.3M394.82 30.76L395.55 35.3M400.42 30.76L401.15 35.3M406.02 30.76L406.75 35.3M375.61 37.15L375.95 39.75M381.12 36.49L381.55 39.75M386.63 35.84L387.15 39.75M392.15 35.19L392.75 39.75M397.75 35.19L398.35 39.75M403.35 35.19L403.95 39.75M408.95 35.19L409.55 39.75M378.48 41.52L378.75 44.2M384.01 40.86L384.35 44.2M389.55 40.2L389.95 44.2M395.09 39.62L395.55 44.2M400.69 39.62L401.15 44.2M406.29 39.62L406.75 44.2M381.36 45.89L381.55 48.65M386.92 45.23L387.15 48.65M392.47 44.57L392.75 48.65M398.04 44.06L398.35 48.65M403.64 44.06L403.95 48.65M409.24 44.06L409.55 48.65M384.26 50.48L384.35 53.1M389.84 49.81L389.95 53.1M395.42 49.15L395.55 53.1M400.99 48.5L401.15 53.1M406.59 48.5L406.75 53.1M387.15 55.06L387.15 57.55M392.76 54.4L392.75 57.55M398.36 53.74L398.35 57.55M403.96 53.08L403.95 57.55M409.56 52.95L409.55 57.55M390.05 59.5L389.95 62M395.67 58.84L395.55 62M401.3 58.18L401.15 62M406.93 57.52L406.75 62M392.95 63.9L392.75 66.45M398.6 63.24L398.35 66.45M404.25 62.58L403.95 66.45M409.9 61.92L409.55 66.45M395.89 68.07L395.55 70.9M401.56 67.41L401.15 70.9M407.24 66.75L406.75 70.9M393.15 72.84L392.75 75.35M398.86 72.19L398.35 75.35M404.56 71.54L403.95 75.35M410.27 70.88L409.55 75.35M396.09 77.16L395.55 79.8M401.82 76.51L401.15 79.8M407.55 75.86L406.75 79.8M399.04 81.49L398.35 84.25M404.8 80.85L403.95 84.25M410.56 80.2L409.55 84.25M396.33 86.09L395.55 88.7M402.11 85.45L401.15 88.7M407.9 84.82L406.75 88.7M393.69 90.44L392.75 93.15M399.51 89.81L398.35 93.15M405.32 89.19L403.95 93.15M411.06 88.8L409.55 93.15M390.99 95L389.95 97.6M396.84 94.38L395.55 97.6M402.68 93.77L401.15 97.6M408.46 93.33L406.75 97.6M388.22 99.69L387.15 102.05M394.1 99.09L392.75 102.05M399.97 98.48L398.35 102.05M405.85 97.88L403.95 102.05M411.45 97.86L409.55 102.05M385.5 104.26L384.35 106.5M391.4 103.67L389.95 106.5M397.31 103.08L395.55 106.5M403.21 102.49L401.15 106.5M408.85 102.41L406.75 106.5M382.78 108.82L381.55 110.95M388.71 108.24L387.15 110.95M394.64 107.67L392.75 110.95M400.57 107.1L398.35 110.95M406.25 106.96L403.95 110.95M411.85 106.96L409.55 110.95M380.08 113.34L378.75 115.4M386.03 112.79L384.35 115.4M391.99 112.23L389.95 115.4M397.95 111.67L395.55 115.4M403.64 111.53L401.15 115.4M409.24 111.53L406.75 115.4M377.36 117.88L375.95 119.85M383.35 117.34L381.55 119.85M389.33 116.8L387.15 119.85M395.32 116.27L392.75 119.85M401.03 116.11L398.35 119.85M406.63 116.11L403.95 119.85M412.23 116.11L409.55 119.85" stroke="#a890bc" stroke-width="0.55" fill="none"/><path d="M317.15 26.4h0M322.75 26.4h0M328.35 26.4h0M333.95 26.4h0M339.55 26.4h0M345.15 26.4h0M350.75 26.4h0M356.35 26.4h0M361.95 26.4h0M367.55 26.4h0M373.15 26.4h0M378.75 26.4h0M384.35 26.4h0M389.95 26.4h0M395.55 26.4h0M401.15 26.4h0M406.75 26.4h0M319.95 30.85h0M325.55 30.85h0M331.15 30.85h0M336.75 30.85h0M342.35 30.85h0M347.95 30.85h0M353.55 30.85h0M359.15 30.85h0M364.75 30.85h0M370.35 30.85h0M375.95 30.85h0M381.55 30.85h0M387.15 30.85h0M392.75 30.85h0M398.35 30.85h0M403.95 30.85h0M409.55 30.85h0M317.15 35.3h0M322.75 35.3h0M328.35 35.3h0M333.95 35.3h0M339.55 35.3h0M345.15 35.3h0M350.75 35.3h0M356.35 35.3h0M361.95 35.3h0M367.55 35.3h0M373.15 35.3h0M378.75 35.3h0M384.35 35.3h0M389.95 35.3h0M395.55 35.3h0M401.15 35.3h0M406.75 35.3h0M319.95 39.75h0M325.55 39.75h0M331.15 39.75h0M336.75 39.75h0M342.35 39.75h0M347.95 39.75h0M353.55 39.75h0M359.15 39.75h0M364.75 39.75h0M370.35 39.75h0M375.95 39.75h0M381.55 39.75h0M387.15 39.75h0M392.75 39.75h0M398.35 39.75h0M403.95 39.75h0M409.55 39.75h0M317.15 44.2h0M322.75 44.2h0M328.35 44.2h0M333.95 44.2h0M339.55 44.2h0M345.15 44.2h0M350.75 44.2h0M356.35 44.2h0M361.95 44.2h0M367.55 44.2h0M373.15 44.2h0M378.75 44.2h0M384.35 44.2h0M389.95 44.2h0M395.55 44.2h0M401.15 44.2h0M406.75 44.2h0M319.95 48.65h0M325.55 48.65h0M331.15 48.65h0M336.75 48.65h0M342.35 48.65h0M347.95 48.65h0M353.55 48.65h0M359.15 48.65h0M364.75 48.65h0M370.35 48.65h0M375.95 48.65h0M381.55 48.65h0M387.15 48.65h0M392.75 48.65h0M398.35 48.65h0M403.95 48.65h0M409.55 48.65h0M317.15 53.1h0M322.75 53.1h0M328.35 53.1h0M333.95 53.1h0M339.55 53.1h0M345.15 53.1h0M350.75 53.1h0M356.35 53.1h0M361.95 53.1h0M367.55 53.1h0M373.15 53.1h0M378.75 53.1h0M384.35 53.1h0M389.95 53.1h0M395.55 53.1h0M401.15 53.1h0M406.75 53.1h0M319.95 57.55h0M325.55 57.55h0M331.15 57.55h0M336.75 57.55h0M342.35 57.55h0M347.95 57.55h0M353.55 57.55h0M359.15 57.55h0M364.75 57.55h0M370.35 57.55h0M375.95 57.55h0M381.55 57.55h0M387.15 57.55h0M392.75 57.55h0M398.35 57.55h0M403.95 57.55h0M409.55 57.55h0M317.15 62h0M322.75 62h0M328.35 62h0M333.95 62h0M339.55 62h0M345.15 62h0M350.75 62h0M356.35 62h0M361.95 62h0M367.55 62h0M373.15 62h0M378.75 62h0M384.35 62h0M389.95 62h0M395.55 62h0M401.15 62h0M406.75 62h0M319.95 66.45h0M325.55 66.45h0M331.15 66.45h0M336.75 66.45h0M342.35 66.45h0M347.95 66.45h0M353.55 66.45h0M359.15 66.45h0M364.75 66.45h0M370.35 66.45h0M375.95 66.45h0M381.55 66.45h0M387.15 66.45h0M392.75 66.45h0M398.35 66.45h0M403.95 66.45h0M409.55 66.45h0M317.15 70.9h0M322.75 70.9h0M328.35 70.9h0M333.95 70.9h0M339.55 70.9h0M345.15 70.9h0M350.75 70.9h0M356.35 70.9h0M361.95 70.9h0M367.55 70.9h0M373.15 70.9h0M378.75 70.9h0M384.35 70.9h0M389.95 70.9h0M395.55 70.9h0M401.15 70.9h0M406.75 70.9h0M319.95 75.35h0M325.55 75.35h0M331.15 75.35h0M336.75 75.35h0M342.35 75.35h0M347.95 75.35h0M353.55 75.35h0M359.15 75.35h0M364.75 75.35h0M370.35 75.35h0M375.95 75.35h0M381.55 75.35h0M387.15 75.35h0M392.75 75.35h0M398.35 75.35h0M403.95 75.35h0M409.55 75.35h0M317.15 79.8h0M322.75 79.8h0M328.35 79.8h0M333.95 79.8h0M339.55 79.8h0M345.15 79.8h0M350.75 79.8h0M356.35 79.8h0M361.95 79.8h0M367.55 79.8h0M373.15 79.8h0M378.75 79.8h0M384.35 79.8h0M389.95 79.8h0M395.55 79.8h0M401.15 79.8h0M406.75 79.8h0M319.95 84.25h0M325.55 84.25h0M331.15 84.25h0M336.75 84.25h0M342.35 84.25h0M347.95 84.25h0M353.55 84.25h0M359.15 84.25h0M364.75 84.25h0M370.35 84.25h0M375.95 84.25h0M381.55 84.25h0M387.15 84.25h0M392.75 84.25h0M398.35 84.25h0M403.95 84.25h0M409.55 84.25h0M317.15 88.7h0M322.75 88.7h0M328.35 88.7h0M333.95 88.7h0M339.55 88.7h0M345.15 88.7h0M350.75 88.7h0M356.35 88.7h0M361.95 88.7h0M367.55 88.7h0M373.15 88.7h0M378.75 88.7h0M384.35 88.7h0M389.95 88.7h0M395.55 88.7h0M401.15 88.7h0M406.75 88.7h0M319.95 93.15h0M325.55 93.15h0M331.15 93.15h0M336.75 93.15h0M342.35 93.15h0M347.95 93.15h0M353.55 93.15h0M359.15 93.15h0M364.75 93.15h0M370.35 93.15h0M375.95 93.15h0M381.55 93.15h0M387.15 93.15h0M392.75 93.15h0M398.35 93.15h0M403.95 93.15h0M409.55 93.15h0M317.15 97.6h0M322.75 97.6h0M328.35 97.6h0M333.95 97.6h0M339.55 97.6h0M345.15 97.6h0M350.75 97.6h0M356.35 97.6h0M361.95 97.6h0M367.55 97.6h0M373.15 97.6h0M378.75 97.6h0M384.35 97.6h0M389.95 97.6h0M395.55 97.6h0M401.15 97.6h0M406.75 97.6h0M319.95 102.05h0M325.55 102.05h0M331.15 102.05h0M336.75 102.05h0M342.35 102.05h0M347.95 102.05h0M353.55 102.05h0M359.15 102.05h0M364.75 102.05h0M370.35 102.05h0M375.95 102.05h0M381.55 102.05h0M387.15 102.05h0M392.75 102.05h0M398.35 102.05h0M403.95 102.05h0M409.55 102.05h0M317.15 106.5h0M322.75 106.5h0M328.35 106.5h0M333.95 106.5h0M339.55 106.5h0M345.15 106.5h0M350.75 106.5h0M356.35 106.5h0M361.95 106.5h0M367.55 106.5h0M373.15 106.5h0M378.75 106.5h0M384.35 106.5h0M389.95 106.5h0M395.55 106.5h0M401.15 106.5h0M406.75 106.5h0M319.95 110.95h0M325.55 110.95h0M331.15 110.95h0M336.75 110.95h0M342.35 110.95h0M347.95 110.95h0M353.55 110.95h0M359.15 110.95h0M364.75 110.95h0M370.35 110.95h0M375.95 110.95h0M381.55 110.95h0M387.15 110.95h0M392.75 110.95h0M398.35 110.95h0M403.95 110.95h0M409.55 110.95h0M317.15 115.4h0M322.75 115.4h0M328.35 115.4h0M333.95 115.4h0M339.55 115.4h0M345.15 115.4h0M350.75 115.4h0M356.35 115.4h0M361.95 115.4h0M367.55 115.4h0M373.15 115.4h0M378.75 115.4h0M384.35 115.4h0M389.95 115.4h0M395.55 115.4h0M401.15 115.4h0M406.75 115.4h0M319.95 119.85h0M325.55 119.85h0M331.15 119.85h0M336.75 119.85h0M342.35 119.85h0M347.95 119.85h0M353.55 119.85h0M359.15 119.85h0M364.75 119.85h0M370.35 119.85h0M375.95 119.85h0M381.55 119.85h0M387.15 119.85h0M392.75 119.85h0M398.35 119.85h0M403.95 119.85h0M409.55 119.85h0" stroke="#5a5a5a" stroke-width="1.1" stroke-linecap="round" fill="none"/><polyline points="363.35,24.2 366.25,29.6 370.25,38.9 375.55,49.6 382.25,56.3 386.35,63 388.95,68.4 387.65,73.7 390.35,81.8 391.85,86.2 387.65,90.5 383.65,95.2 382.25,101.8 378.25,109.9 374.25,116.6 371.85,120.7" fill="none" stroke="#a8a8a8" stroke-width="0.55"/><polyline points="319.15,26.8 323.35,28.1 327.35,30.2 330.25,33.7 327.35,37.8 324.75,41.2 322.05,45.2 324.75,51 323.35,56.3 320.75,61.7 323.35,66.2 325.85,70 327.95,74.2 330.75,78.5 332.25,84.1 332.95,85.5" fill="none" stroke="#a8a8a8" stroke-width="0.55"/><polyline points="315.35,92.5 317.45,92.5 323.15,89.7 328.75,86.9 332.95,85.5 338.55,86.9" fill="none" stroke="#a8a8a8" stroke-width="0.55"/><polyline points="338.55,86.9 344.25,91.1 349.85,95.4 351.95,101 350.55,106.6 348.35,110.8 351.35,116.2 355.35,120.7" fill="none" stroke="#a8a8a8" stroke-width="0.55"/><polyline points="315.35,71.1 319.35,69.7 323.35,68.4 325.85,70" fill="none" stroke="#a8a8a8" stroke-width="0.55"/><polyline points="315.35,108.2 323.35,106.7 331.35,105.2 339.35,102.7 342.15,101.8 350.15,104.5 358.15,107.2 363.55,115.2 366.25,121.1" fill="none" stroke="#a8a8a8" stroke-width="0.55"/><polyline points="330.25,33.7 335.35,31.2 341.35,29.2 348.35,30.2 353.35,27.2 359.35,25.2 363.35,24.2" fill="none" stroke="#a8a8a8" stroke-width="0.55"/><polyline points="345.35,48.2 349.35,52.2 355.35,51.2 361.35,54.2 367.35,57.2 371.35,54.2 375.55,49.6" fill="none" stroke="#a8a8a8" stroke-width="0.55"/><polyline points="355.35,80.2 361.35,82.2 367.35,80.7 373.35,81.7 379.35,79.2 385.35,81.7 390.35,81.8" fill="none" stroke="#a8a8a8" stroke-width="0.55"/><polyline points="351.95,101 357.35,98.2 363.35,96.7 369.35,94.7 375.35,92.2 383.65,95.2" fill="none" stroke="#a8a8a8" stroke-width="0.55"/><circle cx="363.35" cy="34.4" r="3.55" fill="#f2e400"/><circle cx="342.45" cy="45.8" r="3.55" fill="#c0103c"/><circle cx="344.75" cy="38.2" r="3.55" fill="#700030"/><circle cx="331.65" cy="42.7" r="3.55" fill="#d01020"/><circle cx="340.75" cy="41.8" r="3.55" fill="#b0103a"/><circle cx="354.55" cy="42.1" r="3.55" fill="#c0103c"/><circle cx="361.45" cy="46.2" r="3.55" fill="#f04010"/><circle cx="371.55" cy="48.6" r="3.55" fill="#f2e400"/><circle cx="331.65" cy="53.4" r="3.55" fill="#e01020"/><circle cx="345.65" cy="53.4" r="3.55" fill="#f04010"/><circle cx="341.35" cy="56.3" r="3.55" fill="#e01020"/><circle cx="364.75" cy="59" r="3.55" fill="#f78010"/><circle cx="369.05" cy="58.4" r="3.55" fill="#f78010"/><circle cx="365.95" cy="61.7" r="3.55" fill="#f04010"/><circle cx="354.55" cy="60.1" r="3.55" fill="#f04010"/><circle cx="358.95" cy="63.1" r="3.55" fill="#f78010"/><circle cx="370.05" cy="66.2" r="3.55" fill="#f2e400"/><circle cx="378.25" cy="64" r="3.55" fill="#f2e400"/><circle cx="356.45" cy="67.2" r="3.55" fill="#ea1414"/><circle cx="374.05" cy="70.2" r="3.55" fill="#f0c800"/><circle cx="354.45" cy="71.2" r="3.55" fill="#ea1414"/><circle cx="383.75" cy="71.9" r="3.55" fill="#d8e820"/><circle cx="337.45" cy="66" r="3.55" fill="#f2e400"/><circle cx="344.45" cy="65.3" r="3.55" fill="#f78010"/><circle cx="349.45" cy="75.7" r="3.55" fill="#f78010"/><circle cx="358.45" cy="75.4" r="3.55" fill="#f2e400"/><circle cx="371.05" cy="76.5" r="3.55" fill="#f0c800"/><circle cx="377.45" cy="78" r="3.55" fill="#f2e400"/><circle cx="346.35" cy="78.6" r="3.55" fill="#f78010"/><circle cx="342.05" cy="79.6" r="3.55" fill="#f04010"/><circle cx="370.85" cy="83.3" r="3.55" fill="#f0c800"/><circle cx="376.45" cy="85.7" r="3.55" fill="#f2e400"/><circle cx="385.55" cy="87.3" r="3.55" fill="#d8e820"/><circle cx="391.75" cy="85.7" r="3.55" fill="#50b018"/><circle cx="353.45" cy="86.8" r="3.55" fill="#b0e020"/><circle cx="359.35" cy="97.2" r="3.55" fill="#d8e820"/><circle cx="367.05" cy="96.1" r="3.55" fill="#b0e020"/><circle cx="369.45" cy="103" r="3.55" fill="#b0e020"/><circle cx="383.45" cy="100.7" r="3.55" fill="#b0e020"/><circle cx="377.15" cy="108" r="3.55" fill="#90c010"/><rect x="403.75" y="111" width="8" height="8.5" fill="#fff"/><text x="404.55" y="114.4" font-size="3.2" style="stroke:none;fill:#666">5 m/s</text><path d="M405.25 117.2h4.5" stroke="#777" stroke-width="0.6"/></g><rect x="315.35" y="24.2" width="97.4" height="96.2" fill="none" stroke="#d4c6c6" stroke-width="1"/><text x="466.4" y="22.2" font-size="10.4" text-anchor="middle">01-2019</text><clipPath id="cp4"><rect x="417.7" y="24.2" width="97.4" height="96.2"/></clipPath><g clip-path="url(#cp4)"><rect x="417.7" y="24.2" width="97.4" height="96.2" fill="#ffffff"/><path d="M420.44 24.63L419.5 26.4M426.04 24.63L425.1 26.4M431.64 24.63L430.7 26.4M437.24 24.63L436.3 26.4M442.84 24.63L441.9 26.4M448.44 24.63L447.5 26.4M454.04 24.63L453.1 26.4M459.64 24.63L458.7 26.4M465.24 24.63L464.3 26.4M423.24 29.08L422.3 30.85M428.84 29.08L427.9 30.85M434.44 29.08L433.5 30.85M440.04 29.08L439.1 30.85M445.64 29.08L444.7 30.85M451.24 29.08L450.3 30.85M456.84 29.08L455.9 30.85M462.44 29.08L461.5 30.85M468.04 29.08L467.1 30.85M420.44 33.53L419.5 35.3M426.04 33.53L425.1 35.3M431.64 33.53L430.7 35.3M437.24 33.53L436.3 35.3M442.84 33.53L441.9 35.3M448.44 33.53L447.5 35.3M454.04 33.53L453.1 35.3M459.64 33.53L458.7 35.3M465.24 33.53L464.3 35.3M470.84 33.53L469.9 35.3M423.24 37.98L422.3 39.75M428.84 37.98L427.9 39.75M434.44 37.98L433.5 39.75M440.04 37.98L439.1 39.75M445.64 37.98L444.7 39.75M451.24 37.98L450.3 39.75M456.84 37.98L455.9 39.75M462.44 37.98L461.5 39.75M468.04 37.98L467.1 39.75M473.64 37.98L472.7 39.75M420.44 42.43L419.5 44.2M426.04 42.43L425.1 44.2M431.64 42.43L430.7 44.2M437.24 42.43L436.3 44.2M442.84 42.43L441.9 44.2M448.44 42.43L447.5 44.2M454.04 42.43L453.1 44.2M459.64 42.43L458.7 44.2M465.24 42.43L464.3 44.2M470.84 42.43L469.9 44.2M476.44 42.43L475.5 44.2M423.24 46.88L422.3 48.65M428.84 46.88L427.9 48.65M434.44 46.88L433.5 48.65M440.04 46.88L439.1 48.65M445.64 46.88L444.7 48.65M451.24 46.88L450.3 48.65M456.84 46.88L455.9 48.65M462.44 46.88L461.5 48.65M468.04 46.88L467.1 48.65M473.64 46.88L472.7 48.65M479.24 46.88L478.3 48.65M420.44 51.33L419.5 53.1M426.04 51.33L425.1 53.1M431.64 51.33L430.7 53.1M437.24 51.33L436.3 53.1M442.84 51.33L441.9 53.1M448.44 51.33L447.5 53.1M454.04 51.33L453.1 53.1M459.64 51.33L458.7 53.1M465.24 51.33L464.3 53.1M470.84 51.33L469.9 53.1M476.44 51.33L475.5 53.1M482.04 51.33L481.1 53.1M423.24 55.78L422.3 57.55M428.84 55.78L427.9 57.55M434.44 55.78L433.5 57.55M440.04 55.78L439.1 57.55M445.64 55.78L444.7 57.55M451.24 55.78L450.3 57.55M456.84 55.78L455.9 57.55M462.44 55.78L461.5 57.55M468.04 55.78L467.1 57.55M473.64 55.78L472.7 57.55M479.24 55.78L478.3 57.55M484.84 55.78L483.9 57.55M420.44 60.23L419.5 62M426.04 60.23L425.1 62M431.64 60.23L430.7 62M437.24 60.23L436.3 62M442.84 60.23L441.9 62M448.44 60.23L447.5 62M454.04 60.23L453.1 62M459.64 60.23L458.7 62M465.24 60.23L464.3 62M470.84 60.23L469.9 62M476.44 60.23L475.5 62M482.04 60.23L481.1 62M487.64 60.23L486.7 62M423.24 64.68L422.3 66.45M428.84 64.68L427.9 66.45M434.44 64.68L433.5 66.45M440.04 64.68L439.1 66.45M445.64 64.68L444.7 66.45M451.24 64.68L450.3 66.45M456.84 64.68L455.9 66.45M462.44 64.68L461.5 66.45M468.04 64.68L467.1 66.45M473.64 64.68L472.7 66.45M479.24 64.68L478.3 66.45M484.84 64.68L483.9 66.45M490.44 64.68L489.5 66.45M420.44 69.13L419.5 70.9M426.04 69.13L425.1 70.9M431.64 69.13L430.7 70.9M437.24 69.13L436.3 70.9M442.84 69.13L441.9 70.9M448.44 69.13L447.5 70.9M454.04 69.13L453.1 70.9M459.64 69.13L458.7 70.9M465.24 69.13L464.3 70.9M470.84 69.13L469.9 70.9M476.44 69.13L475.5 70.9M482.04 69.13L481.1 70.9M487.64 69.13L486.7 70.9M493.24 69.13L492.3 70.9M423.24 73.58L422.3 75.35M428.84 73.58L427.9 75.35M434.44 73.58L433.5 75.35M440.04 73.58L439.1 75.35M445.64 73.58L444.7 75.35M451.24 73.58L450.3 75.35M456.84 73.58L455.9 75.35M462.44 73.58L461.5 75.35M468.04 73.58L467.1 75.35M473.64 73.58L472.7 75.35M479.24 73.58L478.3 75.35M484.84 73.58L483.9 75.35M490.44 73.58L489.5 75.35M420.44 78.03L419.5 79.8M426.04 78.03L425.1 79.8M431.64 78.03L430.7 79.8M437.24 78.03L436.3 79.8M442.84 78.03L441.9 79.8M448.44 78.03L447.5 79.8M454.04 78.03L453.1 79.8M459.64 78.03L458.7 79.8M465.24 78.03L464.3 79.8M470.84 78.03L469.9 79.8M476.44 78.03L475.5 79.8M482.04 78.03L481.1 79.8M487.64 78.03L486.7 79.8M493.24 78.03L492.3 79.8M423.24 82.48L422.3 84.25M428.84 82.48L427.9 84.25M434.44 82.48L433.5 84.25M440.04 82.48L439.1 84.25M445.64 82.48L444.7 84.25M451.24 82.48L450.3 84.25M456.84 82.48L455.9 84.25M462.44 82.48L461.5 84.25M468.04 82.48L467.1 84.25M473.64 82.48L472.7 84.25M479.24 82.48L478.3 84.25M484.84 82.48L483.9 84.25M490.44 82.48L489.5 84.25M496.04 82.48L495.1 84.25M420.44 86.93L419.5 88.7M426.04 86.93L425.1 88.7M431.64 86.93L430.7 88.7M437.24 86.93L436.3 88.7M442.84 86.93L441.9 88.7M448.44 86.93L447.5 88.7M454.04 86.93L453.1 88.7M459.64 86.93L458.7 88.7M465.24 86.93L464.3 88.7M470.84 86.93L469.9 88.7M476.44 86.93L475.5 88.7M482.04 86.93L481.1 88.7M487.64 86.93L486.7 88.7M493.24 86.93L492.3 88.7M423.24 91.38L422.3 93.15M428.84 91.38L427.9 93.15M434.44 91.38L433.5 93.15M440.04 91.38L439.1 93.15M445.64 91.38L444.7 93.15M451.24 91.38L450.3 93.15M456.84 91.38L455.9 93.15M462.44 91.38L461.5 93.15M468.04 91.38L467.1 93.15M473.64 91.38L472.7 93.15M479.24 91.38L478.3 93.15M484.84 91.38L483.9 93.15M490.44 91.38L489.5 93.15M420.44 95.83L419.5 97.6M426.04 95.83L425.1 97.6M431.64 95.83L430.7 97.6M437.24 95.83L436.3 97.6M442.84 95.83L441.9 97.6M448.44 95.83L447.5 97.6M454.04 95.83L453.1 97.6M459.64 95.83L458.7 97.6M465.24 95.83L464.3 97.6M470.84 95.83L469.9 97.6M476.44 95.83L475.5 97.6M482.04 95.83L481.1 97.6M487.64 95.83L486.7 97.6M423.24 100.28L422.3 102.05M428.84 100.28L427.9 102.05M434.44 100.28L433.5 102.05M440.04 100.28L439.1 102.05M445.64 100.28L444.7 102.05M451.24 100.28L450.3 102.05M456.84 100.28L455.9 102.05M462.44 100.28L461.5 102.05M468.04 100.28L467.1 102.05M473.64 100.28L472.7 102.05M479.24 100.28L478.3 102.05M484.84 100.28L483.9 102.05M420.44 104.73L419.5 106.5M426.04 104.73L425.1 106.5M431.64 104.73L430.7 106.5M437.24 104.73L436.3 106.5M442.84 104.73L441.9 106.5M448.44 104.73L447.5 106.5M454.04 104.73L453.1 106.5M459.64 104.73L458.7 106.5M465.24 104.73L464.3 106.5M470.84 104.73L469.9 106.5M476.44 104.73L475.5 106.5M482.04 104.73L481.1 106.5M423.24 109.18L422.3 110.95M428.84 109.18L427.9 110.95M434.44 109.18L433.5 110.95M440.04 109.18L439.1 110.95M445.64 109.18L444.7 110.95M451.24 109.18L450.3 110.95M456.84 109.18L455.9 110.95M462.44 109.18L461.5 110.95M468.04 109.18L467.1 110.95M473.64 109.18L472.7 110.95M479.24 109.18L478.3 110.95M420.44 113.63L419.5 115.4M426.04 113.63L425.1 115.4M431.64 113.63L430.7 115.4M437.24 113.63L436.3 115.4M442.84 113.63L441.9 115.4M448.44 113.63L447.5 115.4M454.04 113.63L453.1 115.4M459.64 113.63L458.7 115.4M465.24 113.63L464.3 115.4M470.84 113.63L469.9 115.4M476.44 113.63L475.5 115.4M423.24 118.08L422.3 119.85M428.84 118.08L427.9 119.85M434.44 118.08L433.5 119.85M440.04 118.08L439.1 119.85M445.64 118.08L444.7 119.85M451.24 118.08L450.3 119.85M456.84 118.08L455.9 119.85M462.44 118.08L461.5 119.85M468.04 118.08L467.1 119.85M473.64 118.08L472.7 119.85" stroke="#9c9c9c" stroke-width="0.5" fill="none"/><path d="M469.42 24.09L469.9 26.4M474.89 23.44L475.5 26.4M480.36 22.8L481.1 26.4M485.82 22.15L486.7 26.4M491.37 21.89L492.3 26.4M496.97 21.89L497.9 26.4M502.57 21.89L503.5 26.4M508.17 21.89L509.1 26.4M472.26 28.47L472.7 30.85M477.74 27.82L478.3 30.85M483.22 27.17L483.9 30.85M488.7 26.52L489.5 30.85M494.26 26.33L495.1 30.85M499.86 26.33L500.7 30.85M505.46 26.33L506.3 30.85M511.06 26.33L511.9 30.85M475.1 32.81L475.5 35.3M480.6 32.15L481.1 35.3M486.09 31.5L486.7 35.3M491.59 30.85L492.3 35.3M497.17 30.76L497.9 35.3M502.77 30.76L503.5 35.3M508.37 30.76L509.1 35.3M477.96 37.15L478.3 39.75M483.47 36.49L483.9 39.75M488.98 35.84L489.5 39.75M494.5 35.19L495.1 39.75M500.1 35.19L500.7 39.75M505.7 35.19L506.3 39.75M511.3 35.19L511.9 39.75M480.83 41.52L481.1 44.2M486.36 40.86L486.7 44.2M491.9 40.2L492.3 44.2M497.44 39.62L497.9 44.2M503.04 39.62L503.5 44.2M508.64 39.62L509.1 44.2M483.71 45.89L483.9 48.65M489.27 45.23L489.5 48.65M494.82 44.57L495.1 48.65M500.39 44.06L500.7 48.65M505.99 44.06L506.3 48.65M511.59 44.06L511.9 48.65M486.61 50.48L486.7 53.1M492.19 49.81L492.3 53.1M497.77 49.15L497.9 53.1M503.34 48.5L503.5 53.1M508.94 48.5L509.1 53.1M489.5 55.06L489.5 57.55M495.11 54.4L495.1 57.55M500.71 53.74L500.7 57.55M506.31 53.08L506.3 57.55M511.91 52.95L511.9 57.55M492.4 59.5L492.3 62M498.02 58.84L497.9 62M503.65 58.18L503.5 62M509.28 57.52L509.1 62M495.3 63.9L495.1 66.45M500.95 63.24L500.7 66.45M506.6 62.58L506.3 66.45M512.25 61.92L511.9 66.45M498.24 68.07L497.9 70.9M503.91 67.41L503.5 70.9M509.59 66.75L509.1 70.9M495.5 72.84L495.1 75.35M501.21 72.19L500.7 75.35M506.91 71.54L506.3 75.35M512.62 70.88L511.9 75.35M498.44 77.16L497.9 79.8M504.17 76.51L503.5 79.8M509.9 75.86L509.1 79.8M501.39 81.49L500.7 84.25M507.15 80.85L506.3 84.25M512.91 80.2L511.9 84.25M498.68 86.09L497.9 88.7M504.46 85.45L503.5 88.7M510.25 84.82L509.1 88.7M496.04 90.44L495.1 93.15M501.86 89.81L500.7 93.15M507.67 89.19L506.3 93.15M513.41 88.8L511.9 93.15M493.34 95L492.3 97.6M499.19 94.38L497.9 97.6M505.03 93.77L503.5 97.6M510.81 93.33L509.1 97.6M490.57 99.69L489.5 102.05M496.45 99.09L495.1 102.05M502.32 98.48L500.7 102.05M508.2 97.88L506.3 102.05M513.8 97.86L511.9 102.05M487.85 104.26L486.7 106.5M493.75 103.67L492.3 106.5M499.66 103.08L497.9 106.5M505.56 102.49L503.5 106.5M511.2 102.41L509.1 106.5M485.13 108.82L483.9 110.95M491.06 108.24L489.5 110.95M496.99 107.67L495.1 110.95M502.92 107.1L500.7 110.95M508.6 106.96L506.3 110.95M514.2 106.96L511.9 110.95M482.43 113.34L481.1 115.4M488.38 112.79L486.7 115.4M494.34 112.23L492.3 115.4M500.3 111.67L497.9 115.4M505.99 111.53L503.5 115.4M511.59 111.53L509.1 115.4M479.71 117.88L478.3 119.85M485.7 117.34L483.9 119.85M491.68 116.8L489.5 119.85M497.67 116.27L495.1 119.85M503.38 116.11L500.7 119.85M508.98 116.11L506.3 119.85M514.58 116.11L511.9 119.85" stroke="#a890bc" stroke-width="0.55" fill="none"/><path d="M419.5 26.4h0M425.1 26.4h0M430.7 26.4h0M436.3 26.4h0M441.9 26.4h0M447.5 26.4h0M453.1 26.4h0M458.7 26.4h0M464.3 26.4h0M469.9 26.4h0M475.5 26.4h0M481.1 26.4h0M486.7 26.4h0M492.3 26.4h0M497.9 26.4h0M503.5 26.4h0M509.1 26.4h0M422.3 30.85h0M427.9 30.85h0M433.5 30.85h0M439.1 30.85h0M444.7 30.85h0M450.3 30.85h0M455.9 30.85h0M461.5 30.85h0M467.1 30.85h0M472.7 30.85h0M478.3 30.85h0M483.9 30.85h0M489.5 30.85h0M495.1 30.85h0M500.7 30.85h0M506.3 30.85h0M511.9 30.85h0M419.5 35.3h0M425.1 35.3h0M430.7 35.3h0M436.3 35.3h0M441.9 35.3h0M447.5 35.3h0M453.1 35.3h0M458.7 35.3h0M464.3 35.3h0M469.9 35.3h0M475.5 35.3h0M481.1 35.3h0M486.7 35.3h0M492.3 35.3h0M497.9 35.3h0M503.5 35.3h0M509.1 35.3h0M422.3 39.75h0M427.9 39.75h0M433.5 39.75h0M439.1 39.75h0M444.7 39.75h0M450.3 39.75h0M455.9 39.75h0M461.5 39.75h0M467.1 39.75h0M472.7 39.75h0M478.3 39.75h0M483.9 39.75h0M489.5 39.75h0M495.1 39.75h0M500.7 39.75h0M506.3 39.75h0M511.9 39.75h0M419.5 44.2h0M425.1 44.2h0M430.7 44.2h0M436.3 44.2h0M441.9 44.2h0M447.5 44.2h0M453.1 44.2h0M458.7 44.2h0M464.3 44.2h0M469.9 44.2h0M475.5 44.2h0M481.1 44.2h0M486.7 44.2h0M492.3 44.2h0M497.9 44.2h0M503.5 44.2h0M509.1 44.2h0M422.3 48.65h0M427.9 48.65h0M433.5 48.65h0M439.1 48.65h0M444.7 48.65h0M450.3 48.65h0M455.9 48.65h0M461.5 48.65h0M467.1 48.65h0M472.7 48.65h0M478.3 48.65h0M483.9 48.65h0M489.5 48.65h0M495.1 48.65h0M500.7 48.65h0M506.3 48.65h0M511.9 48.65h0M419.5 53.1h0M425.1 53.1h0M430.7 53.1h0M436.3 53.1h0M441.9 53.1h0M447.5 53.1h0M453.1 53.1h0M458.7 53.1h0M464.3 53.1h0M469.9 53.1h0M475.5 53.1h0M481.1 53.1h0M486.7 53.1h0M492.3 53.1h0M497.9 53.1h0M503.5 53.1h0M509.1 53.1h0M422.3 57.55h0M427.9 57.55h0M433.5 57.55h0M439.1 57.55h0M444.7 57.55h0M450.3 57.55h0M455.9 57.55h0M461.5 57.55h0M467.1 57.55h0M472.7 57.55h0M478.3 57.55h0M483.9 57.55h0M489.5 57.55h0M495.1 57.55h0M500.7 57.55h0M506.3 57.55h0M511.9 57.55h0M419.5 62h0M425.1 62h0M430.7 62h0M436.3 62h0M441.9 62h0M447.5 62h0M453.1 62h0M458.7 62h0M464.3 62h0M469.9 62h0M475.5 62h0M481.1 62h0M486.7 62h0M492.3 62h0M497.9 62h0M503.5 62h0M509.1 62h0M422.3 66.45h0M427.9 66.45h0M433.5 66.45h0M439.1 66.45h0M444.7 66.45h0M450.3 66.45h0M455.9 66.45h0M461.5 66.45h0M467.1 66.45h0M472.7 66.45h0M478.3 66.45h0M483.9 66.45h0M489.5 66.45h0M495.1 66.45h0M500.7 66.45h0M506.3 66.45h0M511.9 66.45h0M419.5 70.9h0M425.1 70.9h0M430.7 70.9h0M436.3 70.9h0M441.9 70.9h0M447.5 70.9h0M453.1 70.9h0M458.7 70.9h0M464.3 70.9h0M469.9 70.9h0M475.5 70.9h0M481.1 70.9h0M486.7 70.9h0M492.3 70.9h0M497.9 70.9h0M503.5 70.9h0M509.1 70.9h0M422.3 75.35h0M427.9 75.35h0M433.5 75.35h0M439.1 75.35h0M444.7 75.35h0M450.3 75.35h0M455.9 75.35h0M461.5 75.35h0M467.1 75.35h0M472.7 75.35h0M478.3 75.35h0M483.9 75.35h0M489.5 75.35h0M495.1 75.35h0M500.7 75.35h0M506.3 75.35h0M511.9 75.35h0M419.5 79.8h0M425.1 79.8h0M430.7 79.8h0M436.3 79.8h0M441.9 79.8h0M447.5 79.8h0M453.1 79.8h0M458.7 79.8h0M464.3 79.8h0M469.9 79.8h0M475.5 79.8h0M481.1 79.8h0M486.7 79.8h0M492.3 79.8h0M497.9 79.8h0M503.5 79.8h0M509.1 79.8h0M422.3 84.25h0M427.9 84.25h0M433.5 84.25h0M439.1 84.25h0M444.7 84.25h0M450.3 84.25h0M455.9 84.25h0M461.5 84.25h0M467.1 84.25h0M472.7 84.25h0M478.3 84.25h0M483.9 84.25h0M489.5 84.25h0M495.1 84.25h0M500.7 84.25h0M506.3 84.25h0M511.9 84.25h0M419.5 88.7h0M425.1 88.7h0M430.7 88.7h0M436.3 88.7h0M441.9 88.7h0M447.5 88.7h0M453.1 88.7h0M458.7 88.7h0M464.3 88.7h0M469.9 88.7h0M475.5 88.7h0M481.1 88.7h0M486.7 88.7h0M492.3 88.7h0M497.9 88.7h0M503.5 88.7h0M509.1 88.7h0M422.3 93.15h0M427.9 93.15h0M433.5 93.15h0M439.1 93.15h0M444.7 93.15h0M450.3 93.15h0M455.9 93.15h0M461.5 93.15h0M467.1 93.15h0M472.7 93.15h0M478.3 93.15h0M483.9 93.15h0M489.5 93.15h0M495.1 93.15h0M500.7 93.15h0M506.3 93.15h0M511.9 93.15h0M419.5 97.6h0M425.1 97.6h0M430.7 97.6h0M436.3 97.6h0M441.9 97.6h0M447.5 97.6h0M453.1 97.6h0M458.7 97.6h0M464.3 97.6h0M469.9 97.6h0M475.5 97.6h0M481.1 97.6h0M486.7 97.6h0M492.3 97.6h0M497.9 97.6h0M503.5 97.6h0M509.1 97.6h0M422.3 102.05h0M427.9 102.05h0M433.5 102.05h0M439.1 102.05h0M444.7 102.05h0M450.3 102.05h0M455.9 102.05h0M461.5 102.05h0M467.1 102.05h0M472.7 102.05h0M478.3 102.05h0M483.9 102.05h0M489.5 102.05h0M495.1 102.05h0M500.7 102.05h0M506.3 102.05h0M511.9 102.05h0M419.5 106.5h0M425.1 106.5h0M430.7 106.5h0M436.3 106.5h0M441.9 106.5h0M447.5 106.5h0M453.1 106.5h0M458.7 106.5h0M464.3 106.5h0M469.9 106.5h0M475.5 106.5h0M481.1 106.5h0M486.7 106.5h0M492.3 106.5h0M497.9 106.5h0M503.5 106.5h0M509.1 106.5h0M422.3 110.95h0M427.9 110.95h0M433.5 110.95h0M439.1 110.95h0M444.7 110.95h0M450.3 110.95h0M455.9 110.95h0M461.5 110.95h0M467.1 110.95h0M472.7 110.95h0M478.3 110.95h0M483.9 110.95h0M489.5 110.95h0M495.1 110.95h0M500.7 110.95h0M506.3 110.95h0M511.9 110.95h0M419.5 115.4h0M425.1 115.4h0M430.7 115.4h0M436.3 115.4h0M441.9 115.4h0M447.5 115.4h0M453.1 115.4h0M458.7 115.4h0M464.3 115.4h0M469.9 115.4h0M475.5 115.4h0M481.1 115.4h0M486.7 115.4h0M492.3 115.4h0M497.9 115.4h0M503.5 115.4h0M509.1 115.4h0M422.3 119.85h0M427.9 119.85h0M433.5 119.85h0M439.1 119.85h0M444.7 119.85h0M450.3 119.85h0M455.9 119.85h0M461.5 119.85h0M467.1 119.85h0M472.7 119.85h0M478.3 119.85h0M483.9 119.85h0M489.5 119.85h0M495.1 119.85h0M500.7 119.85h0M506.3 119.85h0M511.9 119.85h0" stroke="#5a5a5a" stroke-width="1.1" stroke-linecap="round" fill="none"/><polyline points="465.7,24.2 468.6,29.6 472.6,38.9 477.9,49.6 484.6,56.3 488.7,63 491.3,68.4 490,73.7 492.7,81.8 494.2,86.2 490,90.5 486,95.2 484.6,101.8 480.6,109.9 476.6,116.6 474.2,120.7" fill="none" stroke="#a8a8a8" stroke-width="0.55"/><polyline points="421.5,26.8 425.7,28.1 429.7,30.2 432.6,33.7 429.7,37.8 427.1,41.2 424.4,45.2 427.1,51 425.7,56.3 423.1,61.7 425.7,66.2 428.2,70 430.3,74.2 433.1,78.5 434.6,84.1 435.3,85.5" fill="none" stroke="#a8a8a8" stroke-width="0.55"/><polyline points="417.7,92.5 419.8,92.5 425.5,89.7 431.1,86.9 435.3,85.5 440.9,86.9" fill="none" stroke="#a8a8a8" stroke-width="0.55"/><polyline points="440.9,86.9 446.6,91.1 452.2,95.4 454.3,101 452.9,106.6 450.7,110.8 453.7,116.2 457.7,120.7" fill="none" stroke="#a8a8a8" stroke-width="0.55"/><polyline points="417.7,71.1 421.7,69.7 425.7,68.4 428.2,70" fill="none" stroke="#a8a8a8" stroke-width="0.55"/><polyline points="417.7,108.2 425.7,106.7 433.7,105.2 441.7,102.7 444.5,101.8 452.5,104.5 460.5,107.2 465.9,115.2 468.6,121.1" fill="none" stroke="#a8a8a8" stroke-width="0.55"/><polyline points="432.6,33.7 437.7,31.2 443.7,29.2 450.7,30.2 455.7,27.2 461.7,25.2 465.7,24.2" fill="none" stroke="#a8a8a8" stroke-width="0.55"/><polyline points="447.7,48.2 451.7,52.2 457.7,51.2 463.7,54.2 469.7,57.2 473.7,54.2 477.9,49.6" fill="none" stroke="#a8a8a8" stroke-width="0.55"/><polyline points="457.7,80.2 463.7,82.2 469.7,80.7 475.7,81.7 481.7,79.2 487.7,81.7 492.7,81.8" fill="none" stroke="#a8a8a8" stroke-width="0.55"/><polyline points="454.3,101 459.7,98.2 465.7,96.7 471.7,94.7 477.7,92.2 486,95.2" fill="none" stroke="#a8a8a8" stroke-width="0.55"/><circle cx="465.7" cy="34.4" r="3.55" fill="#f78010"/><circle cx="444.8" cy="45.8" r="3.55" fill="#f04010"/><circle cx="447.1" cy="38.2" r="3.55" fill="#ea1414"/><circle cx="434" cy="42.7" r="3.55" fill="#ea1414"/><circle cx="443.1" cy="41.8" r="3.55" fill="#ea1414"/><circle cx="456.9" cy="42.1" r="3.55" fill="#f78010"/><circle cx="463.8" cy="46.2" r="3.55" fill="#f78010"/><circle cx="473.9" cy="48.6" r="3.55" fill="#f2e400"/><circle cx="434" cy="53.4" r="3.55" fill="#ea1414"/><circle cx="448" cy="53.4" r="3.55" fill="#f04010"/><circle cx="443.7" cy="56.3" r="3.55" fill="#ea1414"/><circle cx="467.1" cy="59" r="3.55" fill="#f0c800"/><circle cx="471.4" cy="58.4" r="3.55" fill="#f2e400"/><circle cx="468.3" cy="61.7" r="3.55" fill="#f0c800"/><circle cx="456.9" cy="60.1" r="3.55" fill="#f78010"/><circle cx="461.3" cy="63.1" r="3.55" fill="#f2e400"/><circle cx="472.4" cy="66.2" r="3.55" fill="#f0c800"/><circle cx="480.6" cy="64" r="3.55" fill="#d8e820"/><circle cx="458.8" cy="67.2" r="3.55" fill="#f78010"/><circle cx="476.4" cy="70.2" r="3.55" fill="#f2e400"/><circle cx="456.8" cy="71.2" r="3.55" fill="#f78010"/><circle cx="486.1" cy="71.9" r="3.55" fill="#b0e020"/><circle cx="439.8" cy="66" r="3.55" fill="#f04010"/><circle cx="446.8" cy="65.3" r="3.55" fill="#f78010"/><circle cx="451.8" cy="75.7" r="3.55" fill="#f78010"/><circle cx="460.8" cy="75.4" r="3.55" fill="#f0c800"/><circle cx="473.4" cy="76.5" r="3.55" fill="#d8e820"/><circle cx="479.8" cy="78" r="3.55" fill="#d8e820"/><circle cx="448.7" cy="78.6" r="3.55" fill="#f2e400"/><circle cx="444.4" cy="79.6" r="3.55" fill="#f04010"/><circle cx="473.2" cy="83.3" r="3.55" fill="#f2e400"/><circle cx="478.8" cy="85.7" r="3.55" fill="#f2e400"/><circle cx="487.9" cy="87.3" r="3.55" fill="#d8e820"/><circle cx="494.1" cy="85.7" r="3.55" fill="#50b018"/><circle cx="455.8" cy="86.8" r="3.55" fill="#b0e020"/><circle cx="461.7" cy="97.2" r="3.55" fill="#d8e820"/><circle cx="469.4" cy="96.1" r="3.55" fill="#b0e020"/><circle cx="471.8" cy="103" r="3.55" fill="#70d020"/><circle cx="485.8" cy="100.7" r="3.55" fill="#b0e020"/><circle cx="479.5" cy="108" r="3.55" fill="#60b010"/><rect x="506.1" y="111" width="8" height="8.5" fill="#fff"/><text x="506.9" y="114.4" font-size="3.2" style="stroke:none;fill:#666">5 m/s</text><path d="M507.6 117.2h4.5" stroke="#777" stroke-width="0.6"/></g><rect x="417.7" y="24.2" width="97.4" height="96.2" fill="none" stroke="#d4c6c6" stroke-width="1"/><rect x="519.2" y="25.8" width="9.4" height="6.93" fill="#680044"/><rect x="519.2" y="32.43" width="9.4" height="6.93" fill="#a00a50"/><rect x="519.2" y="39.06" width="9.4" height="6.93" fill="#d80a28"/><rect x="519.2" y="45.69" width="9.4" height="6.93" fill="#f43412"/><rect x="519.2" y="52.31" width="9.4" height="6.93" fill="#f87810"/><rect x="519.2" y="58.94" width="9.4" height="6.93" fill="#f8c400"/><rect x="519.2" y="65.57" width="9.4" height="6.93" fill="#f8ec00"/><rect x="519.2" y="72.2" width="9.4" height="6.93" fill="#dcf000"/><rect x="519.2" y="78.83" width="9.4" height="6.93" fill="#b4ec00"/><rect x="519.2" y="85.46" width="9.4" height="6.93" fill="#8ce000"/><rect x="519.2" y="92.09" width="9.4" height="6.93" fill="#60d800"/><rect x="519.2" y="98.71" width="9.4" height="6.93" fill="#34cc00"/><rect x="519.2" y="105.34" width="9.4" height="6.93" fill="#1cb810"/><rect x="519.2" y="111.97" width="9.4" height="6.93" fill="#108c10"/><text x="537.6" y="32.43" font-size="8.7" text-anchor="middle" dominant-baseline="central">120</text><text x="537.6" y="45.69" font-size="8.7" text-anchor="middle" dominant-baseline="central">100</text><text x="537.6" y="58.94" font-size="8.7" text-anchor="middle" dominant-baseline="central">80</text><text x="537.6" y="72.2" font-size="8.7" text-anchor="middle" dominant-baseline="central">60</text><text x="537.6" y="85.46" font-size="8.7" text-anchor="middle" dominant-baseline="central">40</text><text x="537.6" y="98.71" font-size="8.7" text-anchor="middle" dominant-baseline="central">20</text><text x="537.6" y="111.97" font-size="8.7" text-anchor="middle" dominant-baseline="central">5</text><text x="519" y="21.2" font-size="9.6">μg/m<tspan font-size="6.5" dy="-3.6">3</tspan></text><path d="M9.3 122.9H48" stroke="#e6e6e6" stroke-width="0.8" fill="none"/><path d="M9.3 122.9V132.4H48V122.9" stroke="#c4c4c4" stroke-width="0.9" fill="none"/><text x="14.6" y="129.7" font-size="10.6">400km</text>
<text x="9.5" y="151.0" font-size="12.6">(b)</text><rect x="111.8" y="148.2" width="22.8" height="10.9" fill="#00dc00"/><text x="137.8" y="157.6" font-size="10.2">Excellent</text><rect x="182.2" y="148.2" width="22.8" height="10.9" fill="#e6dc30"/><text x="207.9" y="157.6" font-size="10.2">Good</text><rect x="236.3" y="148.2" width="22.8" height="10.9" fill="#fa8805"/><text x="262.5" y="157.6" font-size="10.2">Light</text><rect x="289.5" y="148.2" width="22.8" height="10.9" fill="#fc0000"/><text x="315.5" y="157.6" font-size="10.2">Moderate</text><rect x="360.5" y="148.2" width="22.8" height="10.9" fill="#8c0008"/><text x="386.4" y="157.6" font-size="10.2">Heavy</text><rect x="418.7" y="148.2" width="22.8" height="10.9" fill="#880088"/><text x="444.5" y="157.6" font-size="10.2">Severe</text><rect x="67.3" y="174.5" width="14.5" height="4.2" fill="#8c0008"/><rect x="67.3" y="178.7" width="14.5" height="8.2" fill="#fc0000"/><rect x="67.3" y="186.9" width="14.5" height="11.8" fill="#fa8805"/><rect x="67.3" y="198.7" width="14.5" height="9.8" fill="#e6dc30"/><rect x="67.3" y="208.5" width="14.5" height="1.3" fill="#00dc00"/><rect x="85.45" y="173.6" width="14.5" height="6" fill="#8c0008"/><rect x="85.45" y="179.6" width="14.5" height="8" fill="#fc0000"/><rect x="85.45" y="187.6" width="14.5" height="11.5" fill="#fa8805"/><rect x="85.45" y="199.1" width="14.5" height="9.1" fill="#e6dc30"/><rect x="85.45" y="208.2" width="14.5" height="1.6" fill="#00dc00"/><rect x="103.6" y="170.5" width="14.5" height="10" fill="#8c0008"/><rect x="103.6" y="180.5" width="14.5" height="6.8" fill="#fc0000"/><rect x="103.6" y="187.3" width="14.5" height="12.3" fill="#fa8805"/><rect x="103.6" y="199.6" width="14.5" height="8.9" fill="#e6dc30"/><rect x="103.6" y="208.5" width="14.5" height="1.3" fill="#00dc00"/><rect x="121.75" y="169.1" width="14.5" height="13.1" fill="#8c0008"/><rect x="121.75" y="182.2" width="14.5" height="10.5" fill="#fc0000"/><rect x="121.75" y="192.7" width="14.5" height="7.7" fill="#fa8805"/><rect x="121.75" y="200.4" width="14.5" height="7.8" fill="#e6dc30"/><rect x="121.75" y="208.2" width="14.5" height="1.6" fill="#00dc00"/><rect x="139.9" y="170.4" width="14.5" height="6" fill="#8c0008"/><rect x="139.9" y="176.4" width="14.5" height="10.5" fill="#fc0000"/><rect x="139.9" y="186.9" width="14.5" height="14" fill="#fa8805"/><rect x="139.9" y="200.9" width="14.5" height="7.6" fill="#e6dc30"/><rect x="139.9" y="208.5" width="14.5" height="1.3" fill="#00dc00"/><rect x="188.25" y="168.7" width="14.5" height="11.7" fill="#8c0008"/><rect x="188.25" y="180.4" width="14.5" height="10.5" fill="#fc0000"/><rect x="188.25" y="190.9" width="14.5" height="11.8" fill="#fa8805"/><rect x="188.25" y="202.7" width="14.5" height="5.5" fill="#e6dc30"/><rect x="188.25" y="208.2" width="14.5" height="1.6" fill="#00dc00"/><rect x="206.4" y="172.7" width="14.5" height="6.4" fill="#8c0008"/><rect x="206.4" y="179.1" width="14.5" height="9.1" fill="#fc0000"/><rect x="206.4" y="188.2" width="14.5" height="11.4" fill="#fa8805"/><rect x="206.4" y="199.6" width="14.5" height="8.6" fill="#e6dc30"/><rect x="206.4" y="208.2" width="14.5" height="1.6" fill="#00dc00"/><rect x="224.55" y="179.6" width="14.5" height="3.7" fill="#8c0008"/><rect x="224.55" y="183.3" width="14.5" height="4" fill="#fc0000"/><rect x="224.55" y="187.3" width="14.5" height="10" fill="#fa8805"/><rect x="224.55" y="197.3" width="14.5" height="9.6" fill="#e6dc30"/><rect x="224.55" y="206.9" width="14.5" height="2.9" fill="#00dc00"/><rect x="242.7" y="172.7" width="14.5" height="12.4" fill="#8c0008"/><rect x="242.7" y="185.1" width="14.5" height="7.3" fill="#fc0000"/><rect x="242.7" y="192.4" width="14.5" height="8.5" fill="#fa8805"/><rect x="242.7" y="200.9" width="14.5" height="6.4" fill="#e6dc30"/><rect x="242.7" y="207.3" width="14.5" height="2.5" fill="#00dc00"/><rect x="260.85" y="176.9" width="14.5" height="1.3" fill="#8c0008"/><rect x="260.85" y="178.2" width="14.5" height="7.6" fill="#fc0000"/><rect x="260.85" y="185.8" width="14.5" height="13.8" fill="#fa8805"/><rect x="260.85" y="199.6" width="14.5" height="8" fill="#e6dc30"/><rect x="260.85" y="207.6" width="14.5" height="2.2" fill="#00dc00"/><rect x="309.2" y="173.1" width="14.5" height="5.6" fill="#8c0008"/><rect x="309.2" y="178.7" width="14.5" height="8.2" fill="#fc0000"/><rect x="309.2" y="186.9" width="14.5" height="16.4" fill="#fa8805"/><rect x="309.2" y="203.3" width="14.5" height="3.6" fill="#e6dc30"/><rect x="309.2" y="206.9" width="14.5" height="2.9" fill="#00dc00"/><rect x="327.35" y="178.5" width="14.5" height="4.2" fill="#8c0008"/><rect x="327.35" y="182.7" width="14.5" height="8.2" fill="#fc0000"/><rect x="327.35" y="190.9" width="14.5" height="8.2" fill="#fa8805"/><rect x="327.35" y="199.1" width="14.5" height="7.8" fill="#e6dc30"/><rect x="327.35" y="206.9" width="14.5" height="2.9" fill="#00dc00"/><rect x="345.5" y="189.6" width="14.5" height="6.2" fill="#fa8805"/><rect x="345.5" y="195.8" width="14.5" height="9.3" fill="#e6dc30"/><rect x="345.5" y="205.1" width="14.5" height="4.7" fill="#00dc00"/><rect x="363.65" y="184" width="14.5" height="4.7" fill="#8c0008"/><rect x="363.65" y="188.7" width="14.5" height="2.2" fill="#fc0000"/><rect x="363.65" y="190.9" width="14.5" height="9.5" fill="#fa8805"/><rect x="363.65" y="200.4" width="14.5" height="5.1" fill="#e6dc30"/><rect x="363.65" y="205.5" width="14.5" height="4.3" fill="#00dc00"/><rect x="381.8" y="187.8" width="14.5" height="0.5" fill="#fc0000"/><rect x="381.8" y="188.3" width="14.5" height="9" fill="#fa8805"/><rect x="381.8" y="197.3" width="14.5" height="8.2" fill="#e6dc30"/><rect x="381.8" y="205.5" width="14.5" height="4.3" fill="#00dc00"/><rect x="430.15" y="175.6" width="14.5" height="2.9" fill="#8c0008"/><rect x="430.15" y="178.5" width="14.5" height="9.1" fill="#fc0000"/><rect x="430.15" y="187.6" width="14.5" height="12" fill="#fa8805"/><rect x="430.15" y="199.6" width="14.5" height="8.6" fill="#e6dc30"/><rect x="430.15" y="208.2" width="14.5" height="1.6" fill="#00dc00"/><rect x="448.3" y="183.3" width="14.5" height="0.3" fill="#8c0008"/><rect x="448.3" y="183.6" width="14.5" height="4" fill="#fc0000"/><rect x="448.3" y="187.6" width="14.5" height="9.1" fill="#fa8805"/><rect x="448.3" y="196.7" width="14.5" height="10.2" fill="#e6dc30"/><rect x="448.3" y="206.9" width="14.5" height="2.9" fill="#00dc00"/><rect x="466.45" y="188.2" width="14.5" height="3.6" fill="#fc0000"/><rect x="466.45" y="191.8" width="14.5" height="3.1" fill="#fa8805"/><rect x="466.45" y="194.9" width="14.5" height="10.6" fill="#e6dc30"/><rect x="466.45" y="205.5" width="14.5" height="4.3" fill="#00dc00"/><rect x="484.6" y="187.6" width="14.5" height="3.7" fill="#fc0000"/><rect x="484.6" y="191.3" width="14.5" height="4.7" fill="#fa8805"/><rect x="484.6" y="196" width="14.5" height="9.8" fill="#e6dc30"/><rect x="484.6" y="205.8" width="14.5" height="4" fill="#00dc00"/><rect x="502.75" y="187.8" width="14.5" height="1.7" fill="#fc0000"/><rect x="502.75" y="189.5" width="14.5" height="5.4" fill="#fa8805"/><rect x="502.75" y="194.9" width="14.5" height="11.1" fill="#e6dc30"/><rect x="502.75" y="206" width="14.5" height="3.8" fill="#00dc00"/><rect x="188.25" y="168.2" width="14.5" height="0.6" fill="#880088"/><rect x="242.7" y="172.2" width="14.5" height="0.6" fill="#880088"/><rect x="67.3" y="221.6" width="14.5" height="5.9" fill="#8c0008"/><rect x="67.3" y="227.5" width="14.5" height="11.4" fill="#fc0000"/><rect x="67.3" y="238.9" width="14.5" height="15.5" fill="#fa8805"/><rect x="67.3" y="254.4" width="14.5" height="14" fill="#e6dc30"/><rect x="67.3" y="268.4" width="14.5" height="1.1" fill="#00dc00"/><rect x="85.45" y="221.6" width="14.5" height="8.6" fill="#8c0008"/><rect x="85.45" y="230.2" width="14.5" height="10" fill="#fc0000"/><rect x="85.45" y="240.2" width="14.5" height="15.4" fill="#fa8805"/><rect x="85.45" y="255.6" width="14.5" height="11.9" fill="#e6dc30"/><rect x="85.45" y="267.5" width="14.5" height="2" fill="#00dc00"/><rect x="103.6" y="221.6" width="14.5" height="12.2" fill="#8c0008"/><rect x="103.6" y="233.8" width="14.5" height="8.4" fill="#fc0000"/><rect x="103.6" y="242.2" width="14.5" height="14.5" fill="#fa8805"/><rect x="103.6" y="256.7" width="14.5" height="11.7" fill="#e6dc30"/><rect x="103.6" y="268.4" width="14.5" height="1.1" fill="#00dc00"/><rect x="121.75" y="221.6" width="14.5" height="16" fill="#8c0008"/><rect x="121.75" y="237.6" width="14.5" height="11.7" fill="#fc0000"/><rect x="121.75" y="249.3" width="14.5" height="9.1" fill="#fa8805"/><rect x="121.75" y="258.4" width="14.5" height="10" fill="#e6dc30"/><rect x="121.75" y="268.4" width="14.5" height="1.1" fill="#00dc00"/><rect x="139.9" y="221.6" width="14.5" height="7.7" fill="#8c0008"/><rect x="139.9" y="229.3" width="14.5" height="12.9" fill="#fc0000"/><rect x="139.9" y="242.2" width="14.5" height="16.7" fill="#fa8805"/><rect x="139.9" y="258.9" width="14.5" height="9.5" fill="#e6dc30"/><rect x="139.9" y="268.4" width="14.5" height="1.1" fill="#00dc00"/><rect x="188.25" y="221.6" width="14.5" height="14" fill="#8c0008"/><rect x="188.25" y="235.6" width="14.5" height="12.4" fill="#fc0000"/><rect x="188.25" y="248" width="14.5" height="13.1" fill="#fa8805"/><rect x="188.25" y="261.1" width="14.5" height="7.3" fill="#e6dc30"/><rect x="188.25" y="268.4" width="14.5" height="1.1" fill="#00dc00"/><rect x="206.4" y="221.6" width="14.5" height="8.6" fill="#8c0008"/><rect x="206.4" y="230.2" width="14.5" height="11.4" fill="#fc0000"/><rect x="206.4" y="241.6" width="14.5" height="14.9" fill="#fa8805"/><rect x="206.4" y="256.5" width="14.5" height="11" fill="#e6dc30"/><rect x="206.4" y="267.5" width="14.5" height="2" fill="#00dc00"/><rect x="224.55" y="221.6" width="14.5" height="6.4" fill="#8c0008"/><rect x="224.55" y="228" width="14.5" height="6" fill="#fc0000"/><rect x="224.55" y="234" width="14.5" height="14.9" fill="#fa8805"/><rect x="224.55" y="248.9" width="14.5" height="16.4" fill="#e6dc30"/><rect x="224.55" y="265.3" width="14.5" height="4.2" fill="#00dc00"/><rect x="242.7" y="221.6" width="14.5" height="16.4" fill="#8c0008"/><rect x="242.7" y="238" width="14.5" height="9.6" fill="#fc0000"/><rect x="242.7" y="247.6" width="14.5" height="10.4" fill="#fa8805"/><rect x="242.7" y="258" width="14.5" height="8.2" fill="#e6dc30"/><rect x="242.7" y="266.2" width="14.5" height="3.3" fill="#00dc00"/><rect x="260.85" y="221.6" width="14.5" height="2.8" fill="#8c0008"/><rect x="260.85" y="224.4" width="14.5" height="10" fill="#fc0000"/><rect x="260.85" y="234.4" width="14.5" height="20.3" fill="#fa8805"/><rect x="260.85" y="254.7" width="14.5" height="12" fill="#e6dc30"/><rect x="260.85" y="266.7" width="14.5" height="2.8" fill="#00dc00"/><rect x="309.2" y="221.6" width="14.5" height="7.3" fill="#8c0008"/><rect x="309.2" y="228.9" width="14.5" height="10.9" fill="#fc0000"/><rect x="309.2" y="239.8" width="14.5" height="21.5" fill="#fa8805"/><rect x="309.2" y="261.3" width="14.5" height="4.3" fill="#e6dc30"/><rect x="309.2" y="265.6" width="14.5" height="3.9" fill="#00dc00"/><rect x="327.35" y="221.6" width="14.5" height="6.9" fill="#8c0008"/><rect x="327.35" y="228.5" width="14.5" height="12.2" fill="#fc0000"/><rect x="327.35" y="240.7" width="14.5" height="12.8" fill="#fa8805"/><rect x="327.35" y="253.5" width="14.5" height="11.8" fill="#e6dc30"/><rect x="327.35" y="265.3" width="14.5" height="4.2" fill="#00dc00"/><rect x="345.5" y="221.6" width="14.5" height="14.9" fill="#fa8805"/><rect x="345.5" y="236.5" width="14.5" height="22.4" fill="#e6dc30"/><rect x="345.5" y="258.9" width="14.5" height="10.6" fill="#00dc00"/><rect x="363.65" y="221.6" width="14.5" height="9.5" fill="#8c0008"/><rect x="363.65" y="231.1" width="14.5" height="3.8" fill="#fc0000"/><rect x="363.65" y="234.9" width="14.5" height="17.1" fill="#fa8805"/><rect x="363.65" y="252" width="14.5" height="9.6" fill="#e6dc30"/><rect x="363.65" y="261.6" width="14.5" height="7.9" fill="#00dc00"/><rect x="381.8" y="221.6" width="14.5" height="20.4" fill="#fa8805"/><rect x="381.8" y="242" width="14.5" height="17.8" fill="#e6dc30"/><rect x="381.8" y="259.8" width="14.5" height="9.7" fill="#00dc00"/><rect x="430.15" y="221.6" width="14.5" height="4.6" fill="#8c0008"/><rect x="430.15" y="226.2" width="14.5" height="12.3" fill="#fc0000"/><rect x="430.15" y="238.5" width="14.5" height="17.3" fill="#fa8805"/><rect x="430.15" y="255.8" width="14.5" height="10.9" fill="#e6dc30"/><rect x="430.15" y="266.7" width="14.5" height="2.8" fill="#00dc00"/><rect x="448.3" y="221.6" width="14.5" height="0.2" fill="#8c0008"/><rect x="448.3" y="221.8" width="14.5" height="7.1" fill="#fc0000"/><rect x="448.3" y="228.9" width="14.5" height="16.4" fill="#fa8805"/><rect x="448.3" y="245.3" width="14.5" height="19.1" fill="#e6dc30"/><rect x="448.3" y="264.4" width="14.5" height="5.1" fill="#00dc00"/><rect x="466.45" y="221.6" width="14.5" height="6.9" fill="#fc0000"/><rect x="466.45" y="228.5" width="14.5" height="7.3" fill="#fa8805"/><rect x="466.45" y="235.8" width="14.5" height="24.4" fill="#e6dc30"/><rect x="466.45" y="260.2" width="14.5" height="9.3" fill="#00dc00"/><rect x="484.6" y="221.6" width="14.5" height="8.2" fill="#fc0000"/><rect x="484.6" y="229.8" width="14.5" height="10.9" fill="#fa8805"/><rect x="484.6" y="240.7" width="14.5" height="20.9" fill="#e6dc30"/><rect x="484.6" y="261.6" width="14.5" height="7.9" fill="#00dc00"/><rect x="502.75" y="221.6" width="14.5" height="3.3" fill="#fc0000"/><rect x="502.75" y="224.9" width="14.5" height="11.8" fill="#fa8805"/><rect x="502.75" y="236.7" width="14.5" height="25.3" fill="#e6dc30"/><rect x="502.75" y="262" width="14.5" height="7.5" fill="#00dc00"/><rect x="85.45" y="221.6" width="14.5" height="1" fill="#880088"/><rect x="188.25" y="221.6" width="14.5" height="0.9" fill="#880088"/><rect x="67.3" y="281.3" width="14.5" height="2.7" fill="#8c0008"/><rect x="67.3" y="284" width="14.5" height="6.7" fill="#fc0000"/><rect x="67.3" y="290.7" width="14.5" height="14" fill="#fa8805"/><rect x="67.3" y="304.7" width="14.5" height="20.2" fill="#e6dc30"/><rect x="67.3" y="324.9" width="14.5" height="4.4" fill="#00dc00"/><rect x="85.45" y="281.3" width="14.5" height="3.6" fill="#8c0008"/><rect x="85.45" y="284.9" width="14.5" height="5.5" fill="#fc0000"/><rect x="85.45" y="290.4" width="14.5" height="13.1" fill="#fa8805"/><rect x="85.45" y="303.5" width="14.5" height="18.1" fill="#e6dc30"/><rect x="85.45" y="321.6" width="14.5" height="7.7" fill="#00dc00"/><rect x="103.6" y="281.3" width="14.5" height="4.9" fill="#8c0008"/><rect x="103.6" y="286.2" width="14.5" height="5.8" fill="#fc0000"/><rect x="103.6" y="292" width="14.5" height="13.8" fill="#fa8805"/><rect x="103.6" y="305.8" width="14.5" height="18" fill="#e6dc30"/><rect x="103.6" y="323.8" width="14.5" height="5.5" fill="#00dc00"/><rect x="121.75" y="281.3" width="14.5" height="7.2" fill="#8c0008"/><rect x="121.75" y="288.5" width="14.5" height="8.2" fill="#fc0000"/><rect x="121.75" y="296.7" width="14.5" height="8.6" fill="#fa8805"/><rect x="121.75" y="305.3" width="14.5" height="16.7" fill="#e6dc30"/><rect x="121.75" y="322" width="14.5" height="7.3" fill="#00dc00"/><rect x="139.9" y="281.3" width="14.5" height="3.6" fill="#8c0008"/><rect x="139.9" y="284.9" width="14.5" height="9.1" fill="#fc0000"/><rect x="139.9" y="294" width="14.5" height="15.8" fill="#fa8805"/><rect x="139.9" y="309.8" width="14.5" height="15.1" fill="#e6dc30"/><rect x="139.9" y="324.9" width="14.5" height="4.4" fill="#00dc00"/><rect x="188.25" y="281.3" width="14.5" height="7.2" fill="#8c0008"/><rect x="188.25" y="288.5" width="14.5" height="9.1" fill="#fc0000"/><rect x="188.25" y="297.6" width="14.5" height="13.1" fill="#fa8805"/><rect x="188.25" y="310.7" width="14.5" height="12.8" fill="#e6dc30"/><rect x="188.25" y="323.5" width="14.5" height="5.8" fill="#00dc00"/><rect x="206.4" y="281.3" width="14.5" height="3.6" fill="#8c0008"/><rect x="206.4" y="284.9" width="14.5" height="7.6" fill="#fc0000"/><rect x="206.4" y="292.5" width="14.5" height="12.2" fill="#fa8805"/><rect x="206.4" y="304.7" width="14.5" height="17.3" fill="#e6dc30"/><rect x="206.4" y="322" width="14.5" height="7.3" fill="#00dc00"/><rect x="224.55" y="281.3" width="14.5" height="1.8" fill="#8c0008"/><rect x="224.55" y="283.1" width="14.5" height="3.1" fill="#fc0000"/><rect x="224.55" y="286.2" width="14.5" height="10.9" fill="#fa8805"/><rect x="224.55" y="297.1" width="14.5" height="20" fill="#e6dc30"/><rect x="224.55" y="317.1" width="14.5" height="12.2" fill="#00dc00"/><rect x="242.7" y="281.3" width="14.5" height="6.7" fill="#8c0008"/><rect x="242.7" y="288" width="14.5" height="5.8" fill="#fc0000"/><rect x="242.7" y="293.8" width="14.5" height="9.7" fill="#fa8805"/><rect x="242.7" y="303.5" width="14.5" height="13.2" fill="#e6dc30"/><rect x="242.7" y="316.7" width="14.5" height="12.6" fill="#00dc00"/><rect x="260.85" y="281.3" width="14.5" height="0.2" fill="#8c0008"/><rect x="260.85" y="281.5" width="14.5" height="6.5" fill="#fc0000"/><rect x="260.85" y="288" width="14.5" height="16.7" fill="#fa8805"/><rect x="260.85" y="304.7" width="14.5" height="15.1" fill="#e6dc30"/><rect x="260.85" y="319.8" width="14.5" height="9.5" fill="#00dc00"/><rect x="309.2" y="281.3" width="14.5" height="3.1" fill="#8c0008"/><rect x="309.2" y="284.4" width="14.5" height="6.7" fill="#fc0000"/><rect x="309.2" y="291.1" width="14.5" height="18.7" fill="#fa8805"/><rect x="309.2" y="309.8" width="14.5" height="6.4" fill="#e6dc30"/><rect x="309.2" y="316.2" width="14.5" height="13.1" fill="#00dc00"/><rect x="327.35" y="281.3" width="14.5" height="3.6" fill="#8c0008"/><rect x="327.35" y="284.9" width="14.5" height="6.2" fill="#fc0000"/><rect x="327.35" y="291.1" width="14.5" height="9.6" fill="#fa8805"/><rect x="327.35" y="300.7" width="14.5" height="15.5" fill="#e6dc30"/><rect x="327.35" y="316.2" width="14.5" height="13.1" fill="#00dc00"/><rect x="345.5" y="281.3" width="14.5" height="7.6" fill="#fa8805"/><rect x="345.5" y="288.9" width="14.5" height="17.8" fill="#e6dc30"/><rect x="345.5" y="306.7" width="14.5" height="22.6" fill="#00dc00"/><rect x="363.65" y="281.3" width="14.5" height="1.8" fill="#8c0008"/><rect x="363.65" y="283.1" width="14.5" height="2.7" fill="#fc0000"/><rect x="363.65" y="285.8" width="14.5" height="9.8" fill="#fa8805"/><rect x="363.65" y="295.6" width="14.5" height="11.1" fill="#e6dc30"/><rect x="363.65" y="306.7" width="14.5" height="22.6" fill="#00dc00"/><rect x="381.8" y="281.3" width="14.5" height="11.2" fill="#fa8805"/><rect x="381.8" y="292.5" width="14.5" height="15.5" fill="#e6dc30"/><rect x="381.8" y="308" width="14.5" height="21.3" fill="#00dc00"/><rect x="430.15" y="281.3" width="14.5" height="0.7" fill="#8c0008"/><rect x="430.15" y="282" width="14.5" height="8.7" fill="#fc0000"/><rect x="430.15" y="290.7" width="14.5" height="14.2" fill="#fa8805"/><rect x="430.15" y="304.9" width="14.5" height="15.8" fill="#e6dc30"/><rect x="430.15" y="320.7" width="14.5" height="8.6" fill="#00dc00"/><rect x="448.3" y="281.3" width="14.5" height="2.5" fill="#fc0000"/><rect x="448.3" y="283.8" width="14.5" height="10" fill="#fa8805"/><rect x="448.3" y="293.8" width="14.5" height="22" fill="#e6dc30"/><rect x="448.3" y="315.8" width="14.5" height="13.5" fill="#00dc00"/><rect x="466.45" y="281.3" width="14.5" height="1.6" fill="#fc0000"/><rect x="466.45" y="282.9" width="14.5" height="3.8" fill="#fa8805"/><rect x="466.45" y="286.7" width="14.5" height="23.1" fill="#e6dc30"/><rect x="466.45" y="309.8" width="14.5" height="19.5" fill="#00dc00"/><rect x="484.6" y="281.3" width="14.5" height="2.2" fill="#fc0000"/><rect x="484.6" y="283.5" width="14.5" height="5.8" fill="#fa8805"/><rect x="484.6" y="289.3" width="14.5" height="20" fill="#e6dc30"/><rect x="484.6" y="309.3" width="14.5" height="20" fill="#00dc00"/><rect x="502.75" y="281.3" width="14.5" height="0.7" fill="#fc0000"/><rect x="502.75" y="282" width="14.5" height="7.3" fill="#fa8805"/><rect x="502.75" y="289.3" width="14.5" height="22" fill="#e6dc30"/><rect x="502.75" y="311.3" width="14.5" height="18" fill="#00dc00"/><polyline points="74.55,174.5 92.7,173.3 110.85,170.4 129,168.5 147.15,170" fill="none" stroke="#404040" stroke-width="1.1"/><circle cx="74.55" cy="174.5" r="2.6" fill="#454545"/><circle cx="92.7" cy="173.3" r="2.6" fill="#454545"/><circle cx="110.85" cy="170.4" r="2.6" fill="#454545"/><circle cx="129" cy="168.5" r="2.6" fill="#454545"/><circle cx="147.15" cy="170" r="2.6" fill="#454545"/><polyline points="195.5,168 213.65,172.7 231.8,179.5 249.95,172 268.1,176.9" fill="none" stroke="#404040" stroke-width="1.1"/><circle cx="195.5" cy="168" r="2.6" fill="#454545"/><circle cx="213.65" cy="172.7" r="2.6" fill="#454545"/><circle cx="231.8" cy="179.5" r="2.6" fill="#454545"/><circle cx="249.95" cy="172" r="2.6" fill="#454545"/><circle cx="268.1" cy="176.9" r="2.6" fill="#454545"/><polyline points="316.45,172.7 334.6,178.2 352.75,189.5 370.9,184 389.05,187.8" fill="none" stroke="#404040" stroke-width="1.1"/><circle cx="316.45" cy="172.7" r="2.6" fill="#454545"/><circle cx="334.6" cy="178.2" r="2.6" fill="#454545"/><circle cx="352.75" cy="189.5" r="2.6" fill="#454545"/><circle cx="370.9" cy="184" r="2.6" fill="#454545"/><circle cx="389.05" cy="187.8" r="2.6" fill="#454545"/><polyline points="437.4,175.6 455.55,183.3 473.7,188.2 491.85,187.3 510,188.2" fill="none" stroke="#404040" stroke-width="1.1"/><circle cx="437.4" cy="175.6" r="2.6" fill="#454545"/><circle cx="455.55" cy="183.3" r="2.6" fill="#454545"/><circle cx="473.7" cy="188.2" r="2.6" fill="#454545"/><circle cx="491.85" cy="187.3" r="2.6" fill="#454545"/><circle cx="510" cy="188.2" r="2.6" fill="#454545"/><path d="M50.5 161.8H534.5V210.1" fill="none" stroke="#7a7a7a" stroke-width="1.3"/><path d="M50.5 161.8V210.1H534.5" fill="none" stroke="#4a4a4a" stroke-width="1.2"/><line x1="47.9" y1="210.1" x2="50.5" y2="210.1" stroke="#505050" stroke-width="0.8"/><text x="45.9" y="210.1" font-size="9.2" text-anchor="end" dominant-baseline="central">0</text><line x1="49.1" y1="205.73" x2="50.5" y2="205.73" stroke="#505050" stroke-width="0.8"/><line x1="47.9" y1="201.36" x2="50.5" y2="201.36" stroke="#505050" stroke-width="0.8"/><text x="45.9" y="201.36" font-size="9.2" text-anchor="end" dominant-baseline="central">20</text><line x1="49.1" y1="196.99" x2="50.5" y2="196.99" stroke="#505050" stroke-width="0.8"/><line x1="47.9" y1="192.62" x2="50.5" y2="192.62" stroke="#505050" stroke-width="0.8"/><text x="45.9" y="192.62" font-size="9.2" text-anchor="end" dominant-baseline="central">40</text><line x1="49.1" y1="188.25" x2="50.5" y2="188.25" stroke="#505050" stroke-width="0.8"/><line x1="47.9" y1="183.88" x2="50.5" y2="183.88" stroke="#505050" stroke-width="0.8"/><text x="45.9" y="183.88" font-size="9.2" text-anchor="end" dominant-baseline="central">60</text><line x1="49.1" y1="179.51" x2="50.5" y2="179.51" stroke="#505050" stroke-width="0.8"/><line x1="47.9" y1="175.14" x2="50.5" y2="175.14" stroke="#505050" stroke-width="0.8"/><text x="45.9" y="175.14" font-size="9.2" text-anchor="end" dominant-baseline="central">80</text><line x1="49.1" y1="170.77" x2="50.5" y2="170.77" stroke="#505050" stroke-width="0.8"/><line x1="47.9" y1="166.4" x2="50.5" y2="166.4" stroke="#505050" stroke-width="0.8"/><text x="45.9" y="166.4" font-size="9.2" text-anchor="end" dominant-baseline="central">100</text><text x="74.55" y="219.9" font-size="8.85" text-anchor="middle">2015</text><text x="92.7" y="219.9" font-size="8.85" text-anchor="middle">2016</text><text x="110.85" y="219.9" font-size="8.85" text-anchor="middle">2017</text><text x="129" y="219.9" font-size="8.85" text-anchor="middle">2018</text><text x="147.15" y="219.9" font-size="8.85" text-anchor="middle">2019</text><text x="195.5" y="219.9" font-size="8.85" text-anchor="middle">2015</text><text x="213.65" y="219.9" font-size="8.85" text-anchor="middle">2016</text><text x="231.8" y="219.9" font-size="8.85" text-anchor="middle">2017</text><text x="249.95" y="219.9" font-size="8.85" text-anchor="middle">2018</text><text x="268.1" y="219.9" font-size="8.85" text-anchor="middle">2019</text><text x="316.45" y="219.9" font-size="8.85" text-anchor="middle">2015</text><text x="334.6" y="219.9" font-size="8.85" text-anchor="middle">2016</text><text x="352.75" y="219.9" font-size="8.85" text-anchor="middle">2017</text><text x="370.9" y="219.9" font-size="8.85" text-anchor="middle">2018</text><text x="389.05" y="219.9" font-size="8.85" text-anchor="middle">2019</text><text x="437.4" y="219.9" font-size="8.85" text-anchor="middle">2015</text><text x="455.55" y="219.9" font-size="8.85" text-anchor="middle">2016</text><text x="473.7" y="219.9" font-size="8.85" text-anchor="middle">2017</text><text x="491.85" y="219.9" font-size="8.85" text-anchor="middle">2018</text><text x="510" y="219.9" font-size="8.85" text-anchor="middle">2019</text><path d="M50.5 221.6H534.5V269.7" fill="none" stroke="#7a7a7a" stroke-width="1.3"/><path d="M50.5 221.6V269.7H534.5" fill="none" stroke="#4a4a4a" stroke-width="1.2"/><line x1="47.9" y1="269.7" x2="50.5" y2="269.7" stroke="#505050" stroke-width="0.8"/><text x="45.9" y="269.7" font-size="9.2" text-anchor="end" dominant-baseline="central">0</text><line x1="49.1" y1="264.89" x2="50.5" y2="264.89" stroke="#505050" stroke-width="0.8"/><line x1="47.9" y1="260.08" x2="50.5" y2="260.08" stroke="#505050" stroke-width="0.8"/><text x="45.9" y="260.08" font-size="9.2" text-anchor="end" dominant-baseline="central">20</text><line x1="49.1" y1="255.27" x2="50.5" y2="255.27" stroke="#505050" stroke-width="0.8"/><line x1="47.9" y1="250.46" x2="50.5" y2="250.46" stroke="#505050" stroke-width="0.8"/><text x="45.9" y="250.46" font-size="9.2" text-anchor="end" dominant-baseline="central">40</text><line x1="49.1" y1="245.65" x2="50.5" y2="245.65" stroke="#505050" stroke-width="0.8"/><line x1="47.9" y1="240.84" x2="50.5" y2="240.84" stroke="#505050" stroke-width="0.8"/><text x="45.9" y="240.84" font-size="9.2" text-anchor="end" dominant-baseline="central">60</text><line x1="49.1" y1="236.03" x2="50.5" y2="236.03" stroke="#505050" stroke-width="0.8"/><line x1="47.9" y1="231.22" x2="50.5" y2="231.22" stroke="#505050" stroke-width="0.8"/><text x="45.9" y="231.22" font-size="9.2" text-anchor="end" dominant-baseline="central">80</text><line x1="49.1" y1="226.41" x2="50.5" y2="226.41" stroke="#505050" stroke-width="0.8"/><line x1="47.9" y1="221.6" x2="50.5" y2="221.6" stroke="#505050" stroke-width="0.8"/><text x="45.9" y="221.6" font-size="9.2" text-anchor="end" dominant-baseline="central">100</text><text x="74.55" y="279.5" font-size="8.85" text-anchor="middle">2015</text><text x="92.7" y="279.5" font-size="8.85" text-anchor="middle">2016</text><text x="110.85" y="279.5" font-size="8.85" text-anchor="middle">2017</text><text x="129" y="279.5" font-size="8.85" text-anchor="middle">2018</text><text x="147.15" y="279.5" font-size="8.85" text-anchor="middle">2019</text><text x="195.5" y="279.5" font-size="8.85" text-anchor="middle">2015</text><text x="213.65" y="279.5" font-size="8.85" text-anchor="middle">2016</text><text x="231.8" y="279.5" font-size="8.85" text-anchor="middle">2017</text><text x="249.95" y="279.5" font-size="8.85" text-anchor="middle">2018</text><text x="268.1" y="279.5" font-size="8.85" text-anchor="middle">2019</text><text x="316.45" y="279.5" font-size="8.85" text-anchor="middle">2015</text><text x="334.6" y="279.5" font-size="8.85" text-anchor="middle">2016</text><text x="352.75" y="279.5" font-size="8.85" text-anchor="middle">2017</text><text x="370.9" y="279.5" font-size="8.85" text-anchor="middle">2018</text><text x="389.05" y="279.5" font-size="8.85" text-anchor="middle">2019</text><text x="437.4" y="279.5" font-size="8.85" text-anchor="middle">2015</text><text x="455.55" y="279.5" font-size="8.85" text-anchor="middle">2016</text><text x="473.7" y="279.5" font-size="8.85" text-anchor="middle">2017</text><text x="491.85" y="279.5" font-size="8.85" text-anchor="middle">2018</text><text x="510" y="279.5" font-size="8.85" text-anchor="middle">2019</text><path d="M50.5 281H534.5V329.5" fill="none" stroke="#7a7a7a" stroke-width="1.3"/><path d="M50.5 281V329.5H534.5" fill="none" stroke="#4a4a4a" stroke-width="1.2"/><line x1="47.9" y1="329.5" x2="50.5" y2="329.5" stroke="#505050" stroke-width="0.8"/><text x="45.9" y="329.5" font-size="9.2" text-anchor="end" dominant-baseline="central">0</text><line x1="49.1" y1="324.65" x2="50.5" y2="324.65" stroke="#505050" stroke-width="0.8"/><line x1="47.9" y1="319.8" x2="50.5" y2="319.8" stroke="#505050" stroke-width="0.8"/><text x="45.9" y="319.8" font-size="9.2" text-anchor="end" dominant-baseline="central">20</text><line x1="49.1" y1="314.95" x2="50.5" y2="314.95" stroke="#505050" stroke-width="0.8"/><line x1="47.9" y1="310.1" x2="50.5" y2="310.1" stroke="#505050" stroke-width="0.8"/><text x="45.9" y="310.1" font-size="9.2" text-anchor="end" dominant-baseline="central">40</text><line x1="49.1" y1="305.25" x2="50.5" y2="305.25" stroke="#505050" stroke-width="0.8"/><line x1="47.9" y1="300.4" x2="50.5" y2="300.4" stroke="#505050" stroke-width="0.8"/><text x="45.9" y="300.4" font-size="9.2" text-anchor="end" dominant-baseline="central">60</text><line x1="49.1" y1="295.55" x2="50.5" y2="295.55" stroke="#505050" stroke-width="0.8"/><line x1="47.9" y1="290.7" x2="50.5" y2="290.7" stroke="#505050" stroke-width="0.8"/><text x="45.9" y="290.7" font-size="9.2" text-anchor="end" dominant-baseline="central">80</text><line x1="49.1" y1="285.85" x2="50.5" y2="285.85" stroke="#505050" stroke-width="0.8"/><line x1="47.9" y1="281" x2="50.5" y2="281" stroke="#505050" stroke-width="0.8"/><text x="45.9" y="281" font-size="9.2" text-anchor="end" dominant-baseline="central">100</text><text x="74.55" y="339.3" font-size="8.85" text-anchor="middle">2015</text><text x="92.7" y="339.3" font-size="8.85" text-anchor="middle">2016</text><text x="110.85" y="339.3" font-size="8.85" text-anchor="middle">2017</text><text x="129" y="339.3" font-size="8.85" text-anchor="middle">2018</text><text x="147.15" y="339.3" font-size="8.85" text-anchor="middle">2019</text><text x="195.5" y="339.3" font-size="8.85" text-anchor="middle">2015</text><text x="213.65" y="339.3" font-size="8.85" text-anchor="middle">2016</text><text x="231.8" y="339.3" font-size="8.85" text-anchor="middle">2017</text><text x="249.95" y="339.3" font-size="8.85" text-anchor="middle">2018</text><text x="268.1" y="339.3" font-size="8.85" text-anchor="middle">2019</text><text x="316.45" y="339.3" font-size="8.85" text-anchor="middle">2015</text><text x="334.6" y="339.3" font-size="8.85" text-anchor="middle">2016</text><text x="352.75" y="339.3" font-size="8.85" text-anchor="middle">2017</text><text x="370.9" y="339.3" font-size="8.85" text-anchor="middle">2018</text><text x="389.05" y="339.3" font-size="8.85" text-anchor="middle">2019</text><text x="437.4" y="339.3" font-size="8.85" text-anchor="middle">2015</text><text x="455.55" y="339.3" font-size="8.85" text-anchor="middle">2016</text><text x="473.7" y="339.3" font-size="8.85" text-anchor="middle">2017</text><text x="491.85" y="339.3" font-size="8.85" text-anchor="middle">2018</text><text x="510" y="339.3" font-size="8.85" text-anchor="middle">2019</text><text transform="translate(18.6,185.6) rotate(-90)" font-size="10.7" text-anchor="middle">PM<tspan font-size="7.2" dy="2.4">2.5</tspan><tspan dy="-2.4"> (μg/m</tspan><tspan font-size="7.2" dy="-3.8">3</tspan><tspan dy="3.8">)</tspan></text><text transform="translate(17.8,243.4) rotate(-90)" font-size="10.6" text-anchor="middle">PM<tspan font-size="7.2" dy="2.4">2.5</tspan><tspan dy="-2.4">/ %</tspan></text><text transform="translate(17.6,302.7) rotate(-90)" font-size="10.6" text-anchor="middle">Day/ %</text><line x1="65.6" y1="343.1" x2="156.4" y2="343.1" stroke="#6a6a6a" stroke-width="1.3"/><text x="111" y="356.8" font-size="12.2" text-anchor="middle">Anhui</text><line x1="186.55" y1="343.1" x2="277.35" y2="343.1" stroke="#6a6a6a" stroke-width="1.3"/><text x="231.95" y="356.8" font-size="12.2" text-anchor="middle">Jiangsu</text><line x1="307.5" y1="343.1" x2="398.3" y2="343.1" stroke="#6a6a6a" stroke-width="1.3"/><text x="352.9" y="356.8" font-size="12.2" text-anchor="middle">Shanghai</text><line x1="428.45" y1="343.1" x2="519.25" y2="343.1" stroke="#6a6a6a" stroke-width="1.3"/><text x="473.85" y="356.8" font-size="12.2" text-anchor="middle">Zhejiang</text>
</svg>
</body></html>
